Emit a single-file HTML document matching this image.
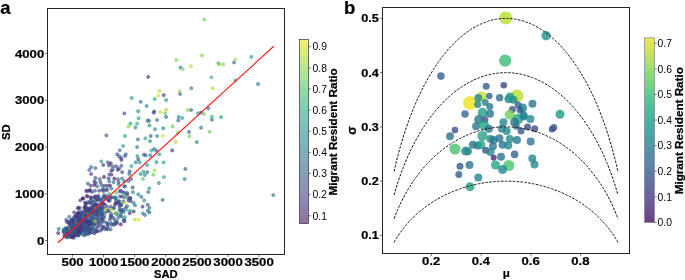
<!DOCTYPE html>
<html><head><meta charset="utf-8"><style>
html,body{margin:0;padding:0;background:#fff;width:685px;height:280px;overflow:hidden}
svg{display:block;will-change:transform}
text{font-family:"Liberation Sans", sans-serif;fill:#000}
text[font-weight=bold]{stroke:#000;stroke-width:0.22px}
</style></head><body>
<svg width="685" height="280" viewBox="0 0 685 280">
<text x="0.3" y="13.8" font-size="18.5" font-weight="bold">a</text>
<text x="344" y="13.9" font-size="18.5" font-weight="bold">b</text>
<g fill-opacity="0.6" stroke-opacity="0.6" stroke-width="0.8">
<circle cx="66.1" cy="235.3" r="1.6" fill="#463480" stroke="#463480"/>
<circle cx="81.1" cy="214.1" r="1.6" fill="#433e85" stroke="#433e85"/>
<circle cx="65.4" cy="228.2" r="1.6" fill="#3d4d8a" stroke="#3d4d8a"/>
<circle cx="111.5" cy="216.0" r="1.6" fill="#23a983" stroke="#23a983"/>
<circle cx="93.7" cy="212.7" r="1.6" fill="#3b518b" stroke="#3b518b"/>
<circle cx="72.0" cy="228.9" r="1.6" fill="#463480" stroke="#463480"/>
<circle cx="87.8" cy="202.1" r="1.6" fill="#33638d" stroke="#33638d"/>
<circle cx="101.8" cy="198.3" r="1.6" fill="#2b758e" stroke="#2b758e"/>
<circle cx="79.5" cy="211.9" r="1.6" fill="#24878e" stroke="#24878e"/>
<circle cx="87.3" cy="223.2" r="1.6" fill="#472e7c" stroke="#472e7c"/>
<circle cx="113.5" cy="218.0" r="1.6" fill="#424086" stroke="#424086"/>
<circle cx="106.3" cy="198.0" r="1.6" fill="#3b518b" stroke="#3b518b"/>
<circle cx="110.7" cy="197.7" r="1.6" fill="#472d7b" stroke="#472d7b"/>
<circle cx="75.9" cy="225.1" r="1.6" fill="#34608d" stroke="#34608d"/>
<circle cx="73.6" cy="237.9" r="1.6" fill="#297a8e" stroke="#297a8e"/>
<circle cx="85.6" cy="204.0" r="1.6" fill="#472e7c" stroke="#472e7c"/>
<circle cx="72.7" cy="231.1" r="1.6" fill="#3d4e8a" stroke="#3d4e8a"/>
<circle cx="101.0" cy="223.3" r="1.6" fill="#32648e" stroke="#32648e"/>
<circle cx="66.2" cy="219.9" r="1.6" fill="#3f4889" stroke="#3f4889"/>
<circle cx="97.5" cy="199.8" r="1.6" fill="#46337f" stroke="#46337f"/>
<circle cx="93.8" cy="220.5" r="1.6" fill="#3a548c" stroke="#3a548c"/>
<circle cx="110.8" cy="222.9" r="1.6" fill="#3e4989" stroke="#3e4989"/>
<circle cx="104.9" cy="229.0" r="1.6" fill="#433d84" stroke="#433d84"/>
<circle cx="109.7" cy="200.7" r="1.6" fill="#404588" stroke="#404588"/>
<circle cx="89.9" cy="202.6" r="1.6" fill="#3b528b" stroke="#3b528b"/>
<circle cx="72.3" cy="219.8" r="1.6" fill="#375a8c" stroke="#375a8c"/>
<circle cx="75.7" cy="228.7" r="1.6" fill="#3c4f8a" stroke="#3c4f8a"/>
<circle cx="101.8" cy="214.4" r="1.6" fill="#31678e" stroke="#31678e"/>
<circle cx="66.5" cy="228.8" r="1.6" fill="#3a538b" stroke="#3a538b"/>
<circle cx="76.3" cy="220.9" r="1.6" fill="#375b8d" stroke="#375b8d"/>
<circle cx="115.6" cy="223.2" r="1.6" fill="#3c4f8a" stroke="#3c4f8a"/>
<circle cx="109.2" cy="210.8" r="1.6" fill="#472f7d" stroke="#472f7d"/>
<circle cx="93.7" cy="229.5" r="1.6" fill="#355e8d" stroke="#355e8d"/>
<circle cx="89.7" cy="232.9" r="1.6" fill="#33628d" stroke="#33628d"/>
<circle cx="98.1" cy="211.2" r="1.6" fill="#34608d" stroke="#34608d"/>
<circle cx="84.1" cy="214.9" r="1.6" fill="#463480" stroke="#463480"/>
<circle cx="90.8" cy="232.0" r="1.6" fill="#472c7a" stroke="#472c7a"/>
<circle cx="70.1" cy="224.4" r="1.6" fill="#433e85" stroke="#433e85"/>
<circle cx="73.4" cy="232.2" r="1.6" fill="#3f4788" stroke="#3f4788"/>
<circle cx="83.6" cy="225.6" r="1.6" fill="#2d718e" stroke="#2d718e"/>
<circle cx="82.2" cy="225.7" r="1.6" fill="#472d7b" stroke="#472d7b"/>
<circle cx="80.8" cy="233.3" r="1.6" fill="#287c8e" stroke="#287c8e"/>
<circle cx="106.7" cy="206.6" r="1.6" fill="#3c508b" stroke="#3c508b"/>
<circle cx="101.8" cy="207.0" r="1.6" fill="#423f85" stroke="#423f85"/>
<circle cx="105.0" cy="204.6" r="1.6" fill="#3e4c8a" stroke="#3e4c8a"/>
<circle cx="66.9" cy="235.8" r="1.6" fill="#424186" stroke="#424186"/>
<circle cx="95.7" cy="214.5" r="1.6" fill="#218f8d" stroke="#218f8d"/>
<circle cx="88.5" cy="214.7" r="1.6" fill="#404588" stroke="#404588"/>
<circle cx="87.7" cy="224.6" r="1.6" fill="#414487" stroke="#414487"/>
<circle cx="92.1" cy="232.2" r="1.6" fill="#365d8d" stroke="#365d8d"/>
<circle cx="96.7" cy="199.5" r="1.6" fill="#463480" stroke="#463480"/>
<circle cx="94.3" cy="233.3" r="1.6" fill="#453882" stroke="#453882"/>
<circle cx="93.7" cy="219.8" r="1.6" fill="#31668e" stroke="#31668e"/>
<circle cx="80.1" cy="221.5" r="1.6" fill="#443983" stroke="#443983"/>
<circle cx="84.0" cy="223.1" r="1.6" fill="#3d4d8a" stroke="#3d4d8a"/>
<circle cx="72.9" cy="224.8" r="1.6" fill="#404688" stroke="#404688"/>
<circle cx="76.0" cy="230.2" r="1.6" fill="#472d7b" stroke="#472d7b"/>
<circle cx="76.8" cy="217.8" r="1.6" fill="#414487" stroke="#414487"/>
<circle cx="117.8" cy="202.3" r="1.6" fill="#39568c" stroke="#39568c"/>
<circle cx="116.0" cy="203.1" r="1.6" fill="#38598c" stroke="#38598c"/>
<circle cx="109.9" cy="219.3" r="1.6" fill="#453882" stroke="#453882"/>
<circle cx="107.5" cy="224.0" r="1.6" fill="#365c8d" stroke="#365c8d"/>
<circle cx="116.6" cy="223.5" r="1.6" fill="#39568c" stroke="#39568c"/>
<circle cx="95.1" cy="212.6" r="1.6" fill="#32658e" stroke="#32658e"/>
<circle cx="113.6" cy="207.8" r="1.6" fill="#32648e" stroke="#32648e"/>
<circle cx="82.8" cy="228.8" r="1.6" fill="#3f4889" stroke="#3f4889"/>
<circle cx="91.1" cy="229.3" r="1.6" fill="#453581" stroke="#453581"/>
<circle cx="98.0" cy="220.1" r="1.6" fill="#355f8d" stroke="#355f8d"/>
<circle cx="78.0" cy="220.8" r="1.6" fill="#3d4d8a" stroke="#3d4d8a"/>
<circle cx="78.1" cy="213.7" r="1.6" fill="#33628d" stroke="#33628d"/>
<circle cx="87.4" cy="212.2" r="1.6" fill="#433d84" stroke="#433d84"/>
<circle cx="120.9" cy="204.0" r="1.6" fill="#3b518b" stroke="#3b518b"/>
<circle cx="94.6" cy="224.2" r="1.6" fill="#3f4889" stroke="#3f4889"/>
<circle cx="99.1" cy="199.7" r="1.6" fill="#39568c" stroke="#39568c"/>
<circle cx="88.3" cy="234.2" r="1.6" fill="#355e8d" stroke="#355e8d"/>
<circle cx="119.5" cy="206.4" r="1.6" fill="#3e4989" stroke="#3e4989"/>
<circle cx="106.5" cy="229.1" r="1.6" fill="#3d4e8a" stroke="#3d4e8a"/>
<circle cx="78.1" cy="217.3" r="1.6" fill="#424186" stroke="#424186"/>
<circle cx="114.9" cy="220.3" r="1.6" fill="#31668e" stroke="#31668e"/>
<circle cx="70.8" cy="234.9" r="1.6" fill="#3d4d8a" stroke="#3d4d8a"/>
<circle cx="102.3" cy="228.7" r="1.6" fill="#3e4a89" stroke="#3e4a89"/>
<circle cx="95.6" cy="228.1" r="1.6" fill="#297a8e" stroke="#297a8e"/>
<circle cx="96.4" cy="223.3" r="1.6" fill="#472e7c" stroke="#472e7c"/>
<circle cx="90.8" cy="229.3" r="1.6" fill="#33638d" stroke="#33638d"/>
<circle cx="85.7" cy="232.7" r="1.6" fill="#3a538b" stroke="#3a538b"/>
<circle cx="113.6" cy="224.3" r="1.6" fill="#31678e" stroke="#31678e"/>
<circle cx="102.7" cy="203.8" r="1.6" fill="#3f4889" stroke="#3f4889"/>
<circle cx="88.7" cy="211.9" r="1.6" fill="#433e85" stroke="#433e85"/>
<circle cx="115.9" cy="202.7" r="1.6" fill="#414287" stroke="#414287"/>
<circle cx="74.9" cy="235.3" r="1.6" fill="#34608d" stroke="#34608d"/>
<circle cx="113.8" cy="208.2" r="1.6" fill="#3e4c8a" stroke="#3e4c8a"/>
<circle cx="74.0" cy="218.4" r="1.6" fill="#31668e" stroke="#31668e"/>
<circle cx="99.3" cy="225.4" r="1.6" fill="#46307e" stroke="#46307e"/>
<circle cx="69.8" cy="228.3" r="1.6" fill="#472c7a" stroke="#472c7a"/>
<circle cx="94.2" cy="210.6" r="1.6" fill="#433d84" stroke="#433d84"/>
<circle cx="104.1" cy="196.5" r="1.6" fill="#3b528b" stroke="#3b528b"/>
<circle cx="100.0" cy="206.6" r="1.6" fill="#46327e" stroke="#46327e"/>
<circle cx="88.7" cy="232.4" r="1.6" fill="#443983" stroke="#443983"/>
<circle cx="85.6" cy="206.5" r="1.6" fill="#46307e" stroke="#46307e"/>
<circle cx="73.3" cy="223.0" r="1.6" fill="#3d4d8a" stroke="#3d4d8a"/>
<circle cx="69.3" cy="216.8" r="1.6" fill="#31678e" stroke="#31678e"/>
<circle cx="107.6" cy="223.6" r="1.6" fill="#3b528b" stroke="#3b528b"/>
<circle cx="114.0" cy="224.6" r="1.6" fill="#433e85" stroke="#433e85"/>
<circle cx="96.9" cy="230.8" r="1.6" fill="#32658e" stroke="#32658e"/>
<circle cx="73.7" cy="223.8" r="1.6" fill="#3d4e8a" stroke="#3d4e8a"/>
<circle cx="92.9" cy="205.7" r="1.6" fill="#38598c" stroke="#38598c"/>
<circle cx="88.7" cy="208.8" r="1.6" fill="#433e85" stroke="#433e85"/>
<circle cx="81.4" cy="232.4" r="1.6" fill="#443a83" stroke="#443a83"/>
<circle cx="74.6" cy="223.5" r="1.6" fill="#31668e" stroke="#31668e"/>
<circle cx="80.8" cy="225.2" r="1.6" fill="#443983" stroke="#443983"/>
<circle cx="114.9" cy="204.8" r="1.6" fill="#472e7c" stroke="#472e7c"/>
<circle cx="86.7" cy="220.3" r="1.6" fill="#34608d" stroke="#34608d"/>
<circle cx="74.2" cy="231.2" r="1.6" fill="#433d84" stroke="#433d84"/>
<circle cx="79.9" cy="208.1" r="1.6" fill="#3c508b" stroke="#3c508b"/>
<circle cx="97.2" cy="207.9" r="1.6" fill="#3e4c8a" stroke="#3e4c8a"/>
<circle cx="97.6" cy="210.2" r="1.6" fill="#32648e" stroke="#32648e"/>
<circle cx="108.0" cy="228.8" r="1.6" fill="#3f4889" stroke="#3f4889"/>
<circle cx="116.1" cy="200.5" r="1.6" fill="#3d4e8a" stroke="#3d4e8a"/>
<circle cx="76.5" cy="227.2" r="1.6" fill="#3d4e8a" stroke="#3d4e8a"/>
<circle cx="110.8" cy="217.1" r="1.6" fill="#33638d" stroke="#33638d"/>
<circle cx="101.7" cy="203.3" r="1.6" fill="#3c508b" stroke="#3c508b"/>
<circle cx="71.6" cy="222.1" r="1.6" fill="#472e7c" stroke="#472e7c"/>
<circle cx="91.0" cy="224.5" r="1.6" fill="#3c508b" stroke="#3c508b"/>
<circle cx="91.9" cy="207.8" r="1.6" fill="#404588" stroke="#404588"/>
<circle cx="70.9" cy="231.4" r="1.6" fill="#472f7d" stroke="#472f7d"/>
<circle cx="76.6" cy="227.6" r="1.6" fill="#443a83" stroke="#443a83"/>
<circle cx="85.9" cy="213.8" r="1.6" fill="#3f4889" stroke="#3f4889"/>
<circle cx="81.1" cy="219.9" r="1.6" fill="#3c508b" stroke="#3c508b"/>
<circle cx="91.3" cy="217.6" r="1.6" fill="#3c4f8a" stroke="#3c4f8a"/>
<circle cx="76.7" cy="230.7" r="1.6" fill="#31688e" stroke="#31688e"/>
<circle cx="67.2" cy="232.6" r="1.6" fill="#3d4d8a" stroke="#3d4d8a"/>
<circle cx="77.2" cy="223.9" r="1.6" fill="#3a548c" stroke="#3a548c"/>
<circle cx="90.1" cy="210.5" r="1.6" fill="#443983" stroke="#443983"/>
<circle cx="72.0" cy="236.9" r="1.6" fill="#423f85" stroke="#423f85"/>
<circle cx="65.9" cy="230.0" r="1.6" fill="#443a83" stroke="#443a83"/>
<circle cx="80.2" cy="220.8" r="1.6" fill="#3b528b" stroke="#3b528b"/>
<circle cx="63.9" cy="229.9" r="1.6" fill="#424086" stroke="#424086"/>
<circle cx="72.1" cy="226.5" r="1.6" fill="#424186" stroke="#424186"/>
<circle cx="104.9" cy="212.5" r="1.6" fill="#39568c" stroke="#39568c"/>
<circle cx="69.0" cy="232.7" r="1.6" fill="#3b528b" stroke="#3b528b"/>
<circle cx="78.5" cy="220.0" r="1.6" fill="#472c7a" stroke="#472c7a"/>
<circle cx="89.8" cy="210.6" r="1.6" fill="#3d4e8a" stroke="#3d4e8a"/>
<circle cx="84.0" cy="221.3" r="1.6" fill="#365d8d" stroke="#365d8d"/>
<circle cx="82.6" cy="219.9" r="1.6" fill="#3a548c" stroke="#3a548c"/>
<circle cx="66.8" cy="228.5" r="1.6" fill="#3f4889" stroke="#3f4889"/>
<circle cx="88.8" cy="222.6" r="1.6" fill="#443b84" stroke="#443b84"/>
<circle cx="86.2" cy="229.1" r="1.6" fill="#433d84" stroke="#433d84"/>
<circle cx="86.3" cy="229.0" r="1.6" fill="#39568c" stroke="#39568c"/>
<circle cx="83.8" cy="223.7" r="1.6" fill="#3f4788" stroke="#3f4788"/>
<circle cx="69.2" cy="221.8" r="1.6" fill="#31678e" stroke="#31678e"/>
<circle cx="66.8" cy="237.5" r="1.6" fill="#32658e" stroke="#32658e"/>
<circle cx="91.6" cy="227.9" r="1.6" fill="#25858e" stroke="#25858e"/>
<circle cx="79.9" cy="225.9" r="1.6" fill="#32658e" stroke="#32658e"/>
<circle cx="73.2" cy="236.1" r="1.6" fill="#33638d" stroke="#33638d"/>
<circle cx="72.1" cy="234.9" r="1.6" fill="#3c4f8a" stroke="#3c4f8a"/>
<circle cx="86.3" cy="224.2" r="1.6" fill="#375b8d" stroke="#375b8d"/>
<circle cx="74.5" cy="221.2" r="1.6" fill="#3b518b" stroke="#3b518b"/>
<circle cx="67.3" cy="236.6" r="1.6" fill="#39568c" stroke="#39568c"/>
<circle cx="88.3" cy="230.3" r="1.6" fill="#34618d" stroke="#34618d"/>
<circle cx="73.0" cy="230.0" r="1.6" fill="#414287" stroke="#414287"/>
<circle cx="101.6" cy="214.5" r="1.6" fill="#46337f" stroke="#46337f"/>
<circle cx="78.4" cy="223.9" r="1.6" fill="#443a83" stroke="#443a83"/>
<circle cx="84.6" cy="221.5" r="1.6" fill="#472d7b" stroke="#472d7b"/>
<circle cx="69.4" cy="235.6" r="1.6" fill="#3e4a89" stroke="#3e4a89"/>
<circle cx="81.1" cy="213.7" r="1.6" fill="#3f4788" stroke="#3f4788"/>
<circle cx="74.2" cy="226.2" r="1.6" fill="#414287" stroke="#414287"/>
<circle cx="93.9" cy="220.3" r="1.6" fill="#33638d" stroke="#33638d"/>
<circle cx="71.3" cy="222.4" r="1.6" fill="#39568c" stroke="#39568c"/>
<circle cx="85.6" cy="217.7" r="1.6" fill="#3c4f8a" stroke="#3c4f8a"/>
<circle cx="94.3" cy="223.5" r="1.6" fill="#3e4989" stroke="#3e4989"/>
<circle cx="78.4" cy="235.5" r="1.6" fill="#365c8d" stroke="#365c8d"/>
<circle cx="89.7" cy="229.4" r="1.6" fill="#424086" stroke="#424086"/>
<circle cx="80.5" cy="233.0" r="1.6" fill="#365c8d" stroke="#365c8d"/>
<circle cx="97.7" cy="215.1" r="1.6" fill="#34608d" stroke="#34608d"/>
<circle cx="78.4" cy="232.3" r="1.6" fill="#375b8d" stroke="#375b8d"/>
<circle cx="63.9" cy="232.3" r="1.6" fill="#46337f" stroke="#46337f"/>
<circle cx="78.3" cy="229.6" r="1.6" fill="#218e8d" stroke="#218e8d"/>
<circle cx="80.1" cy="215.4" r="1.6" fill="#472f7d" stroke="#472f7d"/>
<circle cx="86.0" cy="222.6" r="1.6" fill="#443a83" stroke="#443a83"/>
<circle cx="85.9" cy="224.4" r="1.6" fill="#31688e" stroke="#31688e"/>
<circle cx="70.2" cy="231.9" r="1.6" fill="#404688" stroke="#404688"/>
<circle cx="72.4" cy="223.3" r="1.6" fill="#404588" stroke="#404588"/>
<circle cx="79.7" cy="225.9" r="1.6" fill="#3c4f8a" stroke="#3c4f8a"/>
<circle cx="76.7" cy="221.2" r="1.6" fill="#472e7c" stroke="#472e7c"/>
<circle cx="85.3" cy="220.4" r="1.6" fill="#404588" stroke="#404588"/>
<circle cx="110.4" cy="206.8" r="1.6" fill="#443983" stroke="#443983"/>
<circle cx="90.1" cy="218.7" r="1.6" fill="#433d84" stroke="#433d84"/>
<circle cx="104.2" cy="197.5" r="1.6" fill="#433e85" stroke="#433e85"/>
<circle cx="96.2" cy="211.9" r="1.6" fill="#365d8d" stroke="#365d8d"/>
<circle cx="104.1" cy="217.8" r="1.6" fill="#38598c" stroke="#38598c"/>
<circle cx="88.1" cy="223.3" r="1.6" fill="#472d7b" stroke="#472d7b"/>
<circle cx="79.6" cy="227.2" r="1.6" fill="#3d4d8a" stroke="#3d4d8a"/>
<circle cx="86.7" cy="221.4" r="1.6" fill="#472f7d" stroke="#472f7d"/>
<circle cx="83.4" cy="222.3" r="1.6" fill="#472f7d" stroke="#472f7d"/>
<circle cx="79.4" cy="234.0" r="1.6" fill="#433d84" stroke="#433d84"/>
<circle cx="81.5" cy="224.8" r="1.6" fill="#3b528b" stroke="#3b528b"/>
<circle cx="95.3" cy="200.7" r="1.6" fill="#3b528b" stroke="#3b528b"/>
<circle cx="85.8" cy="225.7" r="1.6" fill="#443a83" stroke="#443a83"/>
<circle cx="72.5" cy="228.2" r="1.6" fill="#34608d" stroke="#34608d"/>
<circle cx="67.6" cy="231.1" r="1.6" fill="#3c4f8a" stroke="#3c4f8a"/>
<circle cx="106.9" cy="211.4" r="1.6" fill="#365c8d" stroke="#365c8d"/>
<circle cx="80.9" cy="224.0" r="1.6" fill="#2a768e" stroke="#2a768e"/>
<circle cx="76.0" cy="227.8" r="1.6" fill="#3e4a89" stroke="#3e4a89"/>
<circle cx="91.1" cy="224.1" r="1.6" fill="#2b748e" stroke="#2b748e"/>
<circle cx="76.5" cy="231.0" r="1.6" fill="#375b8d" stroke="#375b8d"/>
<circle cx="91.9" cy="218.4" r="1.6" fill="#424086" stroke="#424086"/>
<circle cx="71.7" cy="234.6" r="1.6" fill="#3a548c" stroke="#3a548c"/>
<circle cx="87.6" cy="220.0" r="1.6" fill="#38598c" stroke="#38598c"/>
<circle cx="82.4" cy="227.9" r="1.6" fill="#453581" stroke="#453581"/>
<circle cx="84.2" cy="225.8" r="1.6" fill="#39568c" stroke="#39568c"/>
<circle cx="76.1" cy="231.5" r="1.6" fill="#404588" stroke="#404588"/>
<circle cx="88.3" cy="229.3" r="1.6" fill="#31688e" stroke="#31688e"/>
<circle cx="101.6" cy="218.4" r="1.6" fill="#23888e" stroke="#23888e"/>
<circle cx="91.7" cy="221.0" r="1.6" fill="#32648e" stroke="#32648e"/>
<circle cx="82.3" cy="220.5" r="1.6" fill="#3a538b" stroke="#3a538b"/>
<circle cx="80.2" cy="222.7" r="1.6" fill="#375a8c" stroke="#375a8c"/>
<circle cx="69.0" cy="222.2" r="1.6" fill="#3a538b" stroke="#3a538b"/>
<circle cx="72.1" cy="236.9" r="1.6" fill="#472c7a" stroke="#472c7a"/>
<circle cx="85.9" cy="233.5" r="1.6" fill="#3c4f8a" stroke="#3c4f8a"/>
<circle cx="77.7" cy="221.4" r="1.6" fill="#424086" stroke="#424086"/>
<circle cx="66.9" cy="222.0" r="1.6" fill="#46327e" stroke="#46327e"/>
<circle cx="91.9" cy="209.1" r="1.6" fill="#3e4c8a" stroke="#3e4c8a"/>
<circle cx="69.4" cy="231.0" r="1.6" fill="#31678e" stroke="#31678e"/>
<circle cx="87.7" cy="226.0" r="1.6" fill="#472f7d" stroke="#472f7d"/>
<circle cx="98.8" cy="207.5" r="1.6" fill="#375b8d" stroke="#375b8d"/>
<circle cx="77.2" cy="234.5" r="1.6" fill="#375b8d" stroke="#375b8d"/>
<circle cx="72.2" cy="227.7" r="1.6" fill="#3c508b" stroke="#3c508b"/>
<circle cx="69.8" cy="231.9" r="1.6" fill="#424186" stroke="#424186"/>
<circle cx="71.9" cy="224.4" r="1.6" fill="#38588c" stroke="#38588c"/>
<circle cx="68.8" cy="231.3" r="1.6" fill="#31688e" stroke="#31688e"/>
<circle cx="77.0" cy="231.1" r="1.6" fill="#443b84" stroke="#443b84"/>
<circle cx="85.1" cy="225.5" r="1.6" fill="#32648e" stroke="#32648e"/>
<circle cx="87.9" cy="215.9" r="1.6" fill="#375a8c" stroke="#375a8c"/>
<circle cx="70.2" cy="224.3" r="1.6" fill="#443b84" stroke="#443b84"/>
<circle cx="63.7" cy="231.2" r="1.6" fill="#3a538b" stroke="#3a538b"/>
<circle cx="111.1" cy="213.8" r="1.6" fill="#3e4c8a" stroke="#3e4c8a"/>
<circle cx="88.5" cy="225.9" r="1.6" fill="#424186" stroke="#424186"/>
<circle cx="90.4" cy="222.0" r="1.6" fill="#404588" stroke="#404588"/>
<circle cx="82.1" cy="224.3" r="1.6" fill="#3c4f8a" stroke="#3c4f8a"/>
<circle cx="88.3" cy="225.3" r="1.6" fill="#453581" stroke="#453581"/>
<circle cx="103.6" cy="221.6" r="1.6" fill="#414487" stroke="#414487"/>
<circle cx="102.0" cy="218.7" r="1.6" fill="#404688" stroke="#404688"/>
<circle cx="85.7" cy="226.8" r="1.6" fill="#472e7c" stroke="#472e7c"/>
<circle cx="68.1" cy="235.0" r="1.6" fill="#3c4f8a" stroke="#3c4f8a"/>
<circle cx="82.6" cy="223.3" r="1.6" fill="#3a548c" stroke="#3a548c"/>
<circle cx="90.5" cy="223.8" r="1.6" fill="#46337f" stroke="#46337f"/>
<circle cx="71.3" cy="226.5" r="1.6" fill="#2e6e8e" stroke="#2e6e8e"/>
<circle cx="76.7" cy="227.1" r="1.6" fill="#297a8e" stroke="#297a8e"/>
<circle cx="66.6" cy="236.1" r="1.6" fill="#365c8d" stroke="#365c8d"/>
<circle cx="82.6" cy="232.5" r="1.6" fill="#463480" stroke="#463480"/>
<circle cx="96.5" cy="208.0" r="1.6" fill="#287c8e" stroke="#287c8e"/>
<circle cx="91.2" cy="212.8" r="1.6" fill="#21908d" stroke="#21908d"/>
<circle cx="83.6" cy="230.9" r="1.6" fill="#39558c" stroke="#39558c"/>
<circle cx="76.6" cy="214.7" r="1.6" fill="#453581" stroke="#453581"/>
<circle cx="96.1" cy="220.7" r="1.6" fill="#375b8d" stroke="#375b8d"/>
<circle cx="77.7" cy="229.2" r="1.6" fill="#46337f" stroke="#46337f"/>
<circle cx="81.7" cy="228.2" r="1.6" fill="#443a83" stroke="#443a83"/>
<circle cx="90.6" cy="221.8" r="1.6" fill="#33638d" stroke="#33638d"/>
<circle cx="74.8" cy="229.3" r="1.6" fill="#23888e" stroke="#23888e"/>
<circle cx="82.5" cy="212.1" r="1.6" fill="#33638d" stroke="#33638d"/>
<circle cx="75.6" cy="217.0" r="1.6" fill="#404688" stroke="#404688"/>
<circle cx="93.1" cy="224.9" r="1.6" fill="#443a83" stroke="#443a83"/>
<circle cx="88.0" cy="229.6" r="1.6" fill="#472e7c" stroke="#472e7c"/>
<circle cx="78.8" cy="229.3" r="1.6" fill="#32648e" stroke="#32648e"/>
<circle cx="72.6" cy="219.2" r="1.6" fill="#414287" stroke="#414287"/>
<circle cx="93.1" cy="228.4" r="1.6" fill="#31688e" stroke="#31688e"/>
<circle cx="91.9" cy="216.5" r="1.6" fill="#443983" stroke="#443983"/>
<circle cx="78.0" cy="235.4" r="1.6" fill="#423f85" stroke="#423f85"/>
<circle cx="104.1" cy="215.7" r="1.6" fill="#3f4889" stroke="#3f4889"/>
<circle cx="82.5" cy="223.0" r="1.6" fill="#3b518b" stroke="#3b518b"/>
<circle cx="74.1" cy="236.4" r="1.6" fill="#433d84" stroke="#433d84"/>
<circle cx="93.9" cy="211.8" r="1.6" fill="#2d708e" stroke="#2d708e"/>
<circle cx="83.5" cy="224.1" r="1.6" fill="#453781" stroke="#453781"/>
<circle cx="65.3" cy="236.3" r="1.6" fill="#26828e" stroke="#26828e"/>
<circle cx="85.4" cy="212.1" r="1.6" fill="#3a548c" stroke="#3a548c"/>
<circle cx="82.7" cy="220.0" r="1.6" fill="#443a83" stroke="#443a83"/>
<circle cx="79.8" cy="216.7" r="1.6" fill="#453781" stroke="#453781"/>
<circle cx="92.3" cy="227.3" r="1.6" fill="#277f8e" stroke="#277f8e"/>
<circle cx="91.5" cy="212.9" r="1.6" fill="#365d8d" stroke="#365d8d"/>
<circle cx="95.6" cy="231.4" r="1.6" fill="#472f7d" stroke="#472f7d"/>
<circle cx="95.5" cy="204.7" r="1.6" fill="#33638d" stroke="#33638d"/>
<circle cx="102.5" cy="211.5" r="1.6" fill="#3a538b" stroke="#3a538b"/>
<circle cx="74.3" cy="233.0" r="1.6" fill="#39558c" stroke="#39558c"/>
<circle cx="84.0" cy="222.7" r="1.6" fill="#39558c" stroke="#39558c"/>
<circle cx="103.1" cy="208.4" r="1.6" fill="#3f4889" stroke="#3f4889"/>
<circle cx="63.6" cy="231.0" r="1.6" fill="#38598c" stroke="#38598c"/>
<circle cx="97.5" cy="215.0" r="1.6" fill="#472e7c" stroke="#472e7c"/>
<circle cx="93.3" cy="222.9" r="1.6" fill="#3e4a89" stroke="#3e4a89"/>
<circle cx="90.6" cy="211.5" r="1.6" fill="#443983" stroke="#443983"/>
<circle cx="85.6" cy="215.4" r="1.6" fill="#46307e" stroke="#46307e"/>
<circle cx="89.0" cy="209.4" r="1.6" fill="#453882" stroke="#453882"/>
<circle cx="88.7" cy="221.6" r="1.6" fill="#404588" stroke="#404588"/>
<circle cx="88.9" cy="223.9" r="1.6" fill="#414487" stroke="#414487"/>
<circle cx="74.5" cy="216.3" r="1.6" fill="#424186" stroke="#424186"/>
<circle cx="90.2" cy="214.1" r="1.6" fill="#355f8d" stroke="#355f8d"/>
<circle cx="78.6" cy="223.1" r="1.6" fill="#38588c" stroke="#38588c"/>
<circle cx="86.3" cy="226.9" r="1.6" fill="#404588" stroke="#404588"/>
<circle cx="100.3" cy="208.5" r="1.6" fill="#443b84" stroke="#443b84"/>
<circle cx="71.7" cy="229.6" r="1.6" fill="#414487" stroke="#414487"/>
<circle cx="70.0" cy="231.3" r="1.6" fill="#32648e" stroke="#32648e"/>
<circle cx="93.9" cy="216.4" r="1.6" fill="#46327e" stroke="#46327e"/>
<circle cx="92.9" cy="223.0" r="1.6" fill="#29798e" stroke="#29798e"/>
<circle cx="87.3" cy="226.3" r="1.6" fill="#3d4e8a" stroke="#3d4e8a"/>
<circle cx="73.8" cy="229.9" r="1.6" fill="#3f4889" stroke="#3f4889"/>
<circle cx="71.1" cy="220.0" r="1.6" fill="#39568c" stroke="#39568c"/>
<circle cx="73.0" cy="231.3" r="1.6" fill="#355e8d" stroke="#355e8d"/>
<circle cx="86.3" cy="223.5" r="1.6" fill="#355e8d" stroke="#355e8d"/>
<circle cx="81.5" cy="225.9" r="1.6" fill="#32648e" stroke="#32648e"/>
<circle cx="85.3" cy="224.7" r="1.6" fill="#2c718e" stroke="#2c718e"/>
<circle cx="87.9" cy="221.2" r="1.6" fill="#472c7a" stroke="#472c7a"/>
<circle cx="75.2" cy="222.9" r="1.6" fill="#46307e" stroke="#46307e"/>
<circle cx="72.2" cy="220.7" r="1.6" fill="#355e8d" stroke="#355e8d"/>
<circle cx="73.3" cy="227.7" r="1.6" fill="#404588" stroke="#404588"/>
<circle cx="71.7" cy="229.7" r="1.6" fill="#365d8d" stroke="#365d8d"/>
<circle cx="79.4" cy="216.9" r="1.6" fill="#24878e" stroke="#24878e"/>
<circle cx="79.6" cy="217.2" r="1.6" fill="#424186" stroke="#424186"/>
<circle cx="96.1" cy="218.3" r="1.6" fill="#433e85" stroke="#433e85"/>
<circle cx="100.1" cy="217.6" r="1.6" fill="#453882" stroke="#453882"/>
<circle cx="78.7" cy="224.9" r="1.6" fill="#39568c" stroke="#39568c"/>
<circle cx="82.8" cy="216.0" r="1.6" fill="#3f4889" stroke="#3f4889"/>
<circle cx="76.3" cy="232.3" r="1.6" fill="#20a386" stroke="#20a386"/>
<circle cx="86.5" cy="230.4" r="1.6" fill="#31668e" stroke="#31668e"/>
<circle cx="91.6" cy="217.8" r="1.6" fill="#38588c" stroke="#38588c"/>
<circle cx="83.8" cy="235.0" r="1.6" fill="#453781" stroke="#453781"/>
<circle cx="97.2" cy="214.4" r="1.6" fill="#365d8d" stroke="#365d8d"/>
<circle cx="89.0" cy="213.6" r="1.6" fill="#3c4f8a" stroke="#3c4f8a"/>
<circle cx="76.3" cy="228.2" r="1.6" fill="#472f7d" stroke="#472f7d"/>
<circle cx="76.1" cy="234.2" r="1.6" fill="#424086" stroke="#424086"/>
<circle cx="84.9" cy="221.5" r="1.6" fill="#433d84" stroke="#433d84"/>
<circle cx="64.3" cy="235.6" r="1.6" fill="#472f7d" stroke="#472f7d"/>
<circle cx="96.7" cy="211.6" r="1.6" fill="#38598c" stroke="#38598c"/>
<circle cx="100.7" cy="209.3" r="1.6" fill="#3c4f8a" stroke="#3c4f8a"/>
<circle cx="75.8" cy="234.0" r="1.6" fill="#472c7a" stroke="#472c7a"/>
<circle cx="76.1" cy="221.8" r="1.6" fill="#54c568" stroke="#54c568"/>
<circle cx="77.4" cy="230.1" r="1.6" fill="#375a8c" stroke="#375a8c"/>
<circle cx="66.9" cy="233.8" r="1.6" fill="#46327e" stroke="#46327e"/>
<circle cx="72.6" cy="230.2" r="1.6" fill="#32648e" stroke="#32648e"/>
<circle cx="70.9" cy="233.3" r="1.6" fill="#433d84" stroke="#433d84"/>
<circle cx="100.0" cy="210.3" r="1.6" fill="#3f4788" stroke="#3f4788"/>
<circle cx="86.4" cy="212.1" r="1.6" fill="#4ac16d" stroke="#4ac16d"/>
<circle cx="81.0" cy="215.8" r="1.6" fill="#33628d" stroke="#33628d"/>
<circle cx="96.3" cy="205.0" r="1.6" fill="#443983" stroke="#443983"/>
<circle cx="97.7" cy="218.5" r="1.6" fill="#32648e" stroke="#32648e"/>
<circle cx="86.4" cy="229.4" r="1.6" fill="#3d4d8a" stroke="#3d4d8a"/>
<circle cx="92.4" cy="212.4" r="1.6" fill="#3e4989" stroke="#3e4989"/>
<circle cx="70.1" cy="237.2" r="1.6" fill="#423f85" stroke="#423f85"/>
<circle cx="71.4" cy="233.5" r="1.6" fill="#33638d" stroke="#33638d"/>
<circle cx="83.6" cy="231.0" r="1.6" fill="#31668e" stroke="#31668e"/>
<circle cx="80.8" cy="223.5" r="1.6" fill="#3d4e8a" stroke="#3d4e8a"/>
<circle cx="66.8" cy="236.2" r="1.6" fill="#34608d" stroke="#34608d"/>
<circle cx="82.6" cy="226.9" r="1.6" fill="#423f85" stroke="#423f85"/>
<circle cx="80.8" cy="222.2" r="1.6" fill="#3b518b" stroke="#3b518b"/>
<circle cx="84.8" cy="219.7" r="1.6" fill="#3d4e8a" stroke="#3d4e8a"/>
<circle cx="76.8" cy="234.8" r="1.6" fill="#39568c" stroke="#39568c"/>
<circle cx="77.6" cy="230.6" r="1.6" fill="#355e8d" stroke="#355e8d"/>
<circle cx="77.0" cy="221.3" r="1.6" fill="#404688" stroke="#404688"/>
<circle cx="64.0" cy="229.6" r="1.6" fill="#228d8d" stroke="#228d8d"/>
<circle cx="97.7" cy="227.0" r="1.6" fill="#463480" stroke="#463480"/>
<circle cx="79.7" cy="214.1" r="1.6" fill="#375b8d" stroke="#375b8d"/>
<circle cx="84.1" cy="217.4" r="1.6" fill="#32658e" stroke="#32658e"/>
<circle cx="85.5" cy="222.0" r="1.6" fill="#424186" stroke="#424186"/>
<circle cx="101.9" cy="215.5" r="1.6" fill="#31688e" stroke="#31688e"/>
<circle cx="83.2" cy="215.9" r="1.6" fill="#33628d" stroke="#33628d"/>
<circle cx="71.4" cy="225.3" r="1.6" fill="#355e8d" stroke="#355e8d"/>
<circle cx="69.0" cy="222.4" r="1.6" fill="#3d4e8a" stroke="#3d4e8a"/>
<circle cx="86.7" cy="216.8" r="1.6" fill="#433d84" stroke="#433d84"/>
<circle cx="77.1" cy="230.6" r="1.6" fill="#39568c" stroke="#39568c"/>
<circle cx="69.1" cy="225.7" r="1.6" fill="#3c508b" stroke="#3c508b"/>
<circle cx="73.5" cy="229.0" r="1.6" fill="#443983" stroke="#443983"/>
<circle cx="88.5" cy="230.8" r="1.6" fill="#355f8d" stroke="#355f8d"/>
<circle cx="92.1" cy="213.1" r="1.6" fill="#463480" stroke="#463480"/>
<circle cx="76.5" cy="233.9" r="1.6" fill="#414287" stroke="#414287"/>
<circle cx="83.9" cy="233.5" r="1.6" fill="#32648e" stroke="#32648e"/>
<circle cx="73.1" cy="221.1" r="1.6" fill="#46337f" stroke="#46337f"/>
<circle cx="78.2" cy="217.3" r="1.6" fill="#3e4989" stroke="#3e4989"/>
<circle cx="77.8" cy="231.1" r="1.6" fill="#453581" stroke="#453581"/>
<circle cx="91.8" cy="218.8" r="1.6" fill="#26818e" stroke="#26818e"/>
<circle cx="92.0" cy="222.0" r="1.6" fill="#424086" stroke="#424086"/>
<circle cx="96.0" cy="214.1" r="1.6" fill="#3f4889" stroke="#3f4889"/>
<circle cx="80.6" cy="230.6" r="1.6" fill="#443a83" stroke="#443a83"/>
<circle cx="75.3" cy="225.6" r="1.6" fill="#3a538b" stroke="#3a538b"/>
<circle cx="85.0" cy="225.3" r="1.6" fill="#355e8d" stroke="#355e8d"/>
<circle cx="84.9" cy="225.6" r="1.6" fill="#31688e" stroke="#31688e"/>
<circle cx="92.0" cy="215.2" r="1.6" fill="#2a768e" stroke="#2a768e"/>
<circle cx="76.5" cy="215.3" r="1.6" fill="#433d84" stroke="#433d84"/>
<circle cx="97.2" cy="210.3" r="1.6" fill="#433d84" stroke="#433d84"/>
<circle cx="85.5" cy="230.4" r="1.6" fill="#355e8d" stroke="#355e8d"/>
<circle cx="76.5" cy="225.9" r="1.6" fill="#32648e" stroke="#32648e"/>
<circle cx="83.0" cy="234.4" r="1.6" fill="#20a386" stroke="#20a386"/>
<circle cx="85.5" cy="234.8" r="1.6" fill="#355f8d" stroke="#355f8d"/>
<circle cx="91.6" cy="210.6" r="1.6" fill="#3e4a89" stroke="#3e4a89"/>
<circle cx="74.2" cy="236.0" r="1.6" fill="#46327e" stroke="#46327e"/>
<circle cx="103.7" cy="226.6" r="1.6" fill="#3e4a89" stroke="#3e4a89"/>
<circle cx="86.2" cy="208.4" r="1.6" fill="#472d7b" stroke="#472d7b"/>
<circle cx="79.4" cy="225.6" r="1.6" fill="#3f4889" stroke="#3f4889"/>
<circle cx="83.6" cy="229.4" r="1.6" fill="#3b518b" stroke="#3b518b"/>
<circle cx="103.2" cy="208.2" r="1.6" fill="#3d4d8a" stroke="#3d4d8a"/>
<circle cx="88.8" cy="214.3" r="1.6" fill="#32648e" stroke="#32648e"/>
<circle cx="90.4" cy="228.8" r="1.6" fill="#3c508b" stroke="#3c508b"/>
<circle cx="84.6" cy="209.6" r="1.6" fill="#414487" stroke="#414487"/>
<circle cx="89.0" cy="223.3" r="1.6" fill="#443a83" stroke="#443a83"/>
<circle cx="77.8" cy="234.1" r="1.6" fill="#433e85" stroke="#433e85"/>
<circle cx="82.1" cy="224.8" r="1.6" fill="#3b528b" stroke="#3b528b"/>
<circle cx="76.1" cy="217.1" r="1.6" fill="#433d84" stroke="#433d84"/>
<circle cx="86.2" cy="227.4" r="1.6" fill="#3b528b" stroke="#3b528b"/>
<circle cx="80.7" cy="228.4" r="1.6" fill="#472e7c" stroke="#472e7c"/>
<circle cx="79.3" cy="230.9" r="1.6" fill="#472c7a" stroke="#472c7a"/>
<circle cx="80.3" cy="219.1" r="1.6" fill="#443983" stroke="#443983"/>
<circle cx="80.2" cy="224.4" r="1.6" fill="#404688" stroke="#404688"/>
<circle cx="99.0" cy="222.5" r="1.6" fill="#3a548c" stroke="#3a548c"/>
<circle cx="90.0" cy="209.9" r="1.6" fill="#453882" stroke="#453882"/>
<circle cx="118.4" cy="201.6" r="1.6" fill="#31678e" stroke="#31678e"/>
<circle cx="88.0" cy="213.2" r="1.6" fill="#29798e" stroke="#29798e"/>
<circle cx="107.3" cy="210.1" r="1.6" fill="#423f85" stroke="#423f85"/>
<circle cx="103.3" cy="191.1" r="1.6" fill="#33628d" stroke="#33628d"/>
<circle cx="113.9" cy="197.5" r="1.6" fill="#404588" stroke="#404588"/>
<circle cx="101.0" cy="200.5" r="1.6" fill="#443b84" stroke="#443b84"/>
<circle cx="108.6" cy="200.6" r="1.6" fill="#443a83" stroke="#443a83"/>
<circle cx="99.3" cy="204.2" r="1.6" fill="#3a538b" stroke="#3a538b"/>
<circle cx="122.2" cy="196.6" r="1.6" fill="#453581" stroke="#453581"/>
<circle cx="119.2" cy="204.2" r="1.6" fill="#453781" stroke="#453781"/>
<circle cx="123.0" cy="209.8" r="1.6" fill="#463480" stroke="#463480"/>
<circle cx="107.9" cy="199.7" r="1.6" fill="#3e4989" stroke="#3e4989"/>
<circle cx="102.9" cy="189.8" r="1.6" fill="#472f7d" stroke="#472f7d"/>
<circle cx="106.3" cy="190.2" r="1.6" fill="#463480" stroke="#463480"/>
<circle cx="115.8" cy="197.8" r="1.6" fill="#29af7f" stroke="#29af7f"/>
<circle cx="95.8" cy="209.7" r="1.6" fill="#3d4d8a" stroke="#3d4d8a"/>
<circle cx="116.6" cy="213.1" r="1.6" fill="#3bbb75" stroke="#3bbb75"/>
<circle cx="120.2" cy="209.6" r="1.6" fill="#355e8d" stroke="#355e8d"/>
<circle cx="94.7" cy="198.6" r="1.6" fill="#228b8d" stroke="#228b8d"/>
<circle cx="118.2" cy="217.9" r="1.6" fill="#31688e" stroke="#31688e"/>
<circle cx="98.4" cy="195.7" r="1.6" fill="#32658e" stroke="#32658e"/>
<circle cx="101.4" cy="213.6" r="1.6" fill="#423f85" stroke="#423f85"/>
<circle cx="103.0" cy="199.7" r="1.6" fill="#33628d" stroke="#33628d"/>
<circle cx="96.9" cy="196.6" r="1.6" fill="#472d7b" stroke="#472d7b"/>
<circle cx="123.4" cy="201.4" r="1.6" fill="#3a538b" stroke="#3a538b"/>
<circle cx="121.7" cy="210.8" r="1.6" fill="#423f85" stroke="#423f85"/>
<circle cx="96.0" cy="204.2" r="1.6" fill="#472c7a" stroke="#472c7a"/>
<circle cx="110.7" cy="216.1" r="1.6" fill="#414487" stroke="#414487"/>
<circle cx="103.6" cy="203.6" r="1.6" fill="#46307e" stroke="#46307e"/>
<circle cx="120.8" cy="205.0" r="1.6" fill="#32648e" stroke="#32648e"/>
<circle cx="99.5" cy="213.4" r="1.6" fill="#3c4f8a" stroke="#3c4f8a"/>
<circle cx="119.1" cy="201.1" r="1.6" fill="#3b518b" stroke="#3b518b"/>
<circle cx="90.4" cy="200.6" r="1.6" fill="#3b528b" stroke="#3b528b"/>
<circle cx="100.8" cy="212.2" r="1.6" fill="#31668e" stroke="#31668e"/>
<circle cx="85.3" cy="208.4" r="1.6" fill="#38588c" stroke="#38588c"/>
<circle cx="92.9" cy="202.2" r="1.6" fill="#433d84" stroke="#433d84"/>
<circle cx="100.0" cy="209.1" r="1.6" fill="#32648e" stroke="#32648e"/>
<circle cx="93.2" cy="207.1" r="1.6" fill="#46307e" stroke="#46307e"/>
<circle cx="120.5" cy="215.1" r="1.6" fill="#32648e" stroke="#32648e"/>
<circle cx="115.8" cy="197.9" r="1.6" fill="#3d4d8a" stroke="#3d4d8a"/>
<circle cx="115.6" cy="213.5" r="1.6" fill="#443983" stroke="#443983"/>
<circle cx="204.3" cy="19.5" r="1.6" fill="#69cd5b" stroke="#69cd5b"/>
<circle cx="176.4" cy="59.9" r="1.6" fill="#7fd34e" stroke="#7fd34e"/>
<circle cx="202.1" cy="55.3" r="1.6" fill="#7fd34e" stroke="#7fd34e"/>
<circle cx="180.4" cy="67.5" r="1.6" fill="#2e6e8e" stroke="#2e6e8e"/>
<circle cx="182.7" cy="69.1" r="1.6" fill="#7fd34e" stroke="#7fd34e"/>
<circle cx="190.9" cy="66.2" r="1.6" fill="#b0dd2f" stroke="#b0dd2f"/>
<circle cx="218.5" cy="63.3" r="1.6" fill="#20928c" stroke="#20928c"/>
<circle cx="219.2" cy="64.5" r="1.6" fill="#b0dd2f" stroke="#b0dd2f"/>
<circle cx="223.1" cy="64.3" r="1.6" fill="#7fd34e" stroke="#7fd34e"/>
<circle cx="235.3" cy="59.5" r="1.6" fill="#b0dd2f" stroke="#b0dd2f"/>
<circle cx="234.0" cy="62.5" r="1.6" fill="#2e6e8e" stroke="#2e6e8e"/>
<circle cx="148.2" cy="76.9" r="1.6" fill="#46327e" stroke="#46327e"/>
<circle cx="211.4" cy="77.3" r="1.6" fill="#35b779" stroke="#35b779"/>
<circle cx="235.4" cy="80.6" r="1.6" fill="#21a685" stroke="#21a685"/>
<circle cx="191.3" cy="88.2" r="1.6" fill="#25848e" stroke="#25848e"/>
<circle cx="212.6" cy="88.3" r="1.6" fill="#b0dd2f" stroke="#b0dd2f"/>
<circle cx="251.4" cy="56.8" r="1.6" fill="#1f9f88" stroke="#1f9f88"/>
<circle cx="258.0" cy="84.1" r="1.6" fill="#2e6e8e" stroke="#2e6e8e"/>
<circle cx="273.3" cy="195.1" r="1.6" fill="#2e6e8e" stroke="#2e6e8e"/>
<circle cx="159.4" cy="91.0" r="1.6" fill="#b0dd2f" stroke="#b0dd2f"/>
<circle cx="179.5" cy="91.0" r="1.6" fill="#b0dd2f" stroke="#b0dd2f"/>
<circle cx="180.1" cy="94.0" r="1.6" fill="#2e6e8e" stroke="#2e6e8e"/>
<circle cx="158.3" cy="95.7" r="1.6" fill="#d5e21a" stroke="#d5e21a"/>
<circle cx="163.7" cy="95.1" r="1.6" fill="#46327e" stroke="#46327e"/>
<circle cx="154.7" cy="99.0" r="1.6" fill="#21a685" stroke="#21a685"/>
<circle cx="166.1" cy="100.0" r="1.6" fill="#1f9f88" stroke="#1f9f88"/>
<circle cx="146.6" cy="105.9" r="1.6" fill="#25848e" stroke="#25848e"/>
<circle cx="154.3" cy="111.4" r="1.6" fill="#3e4c8a" stroke="#3e4c8a"/>
<circle cx="153.6" cy="112.7" r="1.6" fill="#404688" stroke="#404688"/>
<circle cx="160.4" cy="111.9" r="1.6" fill="#b0dd2f" stroke="#b0dd2f"/>
<circle cx="166.1" cy="109.7" r="1.6" fill="#b0dd2f" stroke="#b0dd2f"/>
<circle cx="165.1" cy="113.3" r="1.6" fill="#69cd5b" stroke="#69cd5b"/>
<circle cx="166.1" cy="116.9" r="1.6" fill="#2e6e8e" stroke="#2e6e8e"/>
<circle cx="187.6" cy="110.1" r="1.6" fill="#8bd646" stroke="#8bd646"/>
<circle cx="191.1" cy="110.0" r="1.6" fill="#33638d" stroke="#33638d"/>
<circle cx="208.3" cy="108.3" r="1.6" fill="#33638d" stroke="#33638d"/>
<circle cx="198.0" cy="113.3" r="1.6" fill="#1f9f88" stroke="#1f9f88"/>
<circle cx="201.1" cy="112.6" r="1.6" fill="#33638d" stroke="#33638d"/>
<circle cx="204.0" cy="114.0" r="1.6" fill="#69cd5b" stroke="#69cd5b"/>
<circle cx="211.9" cy="116.6" r="1.6" fill="#35b779" stroke="#35b779"/>
<circle cx="211.9" cy="119.7" r="1.6" fill="#2e6e8e" stroke="#2e6e8e"/>
<circle cx="221.1" cy="117.1" r="1.6" fill="#1f9f88" stroke="#1f9f88"/>
<circle cx="178.7" cy="116.9" r="1.6" fill="#20928c" stroke="#20928c"/>
<circle cx="182.3" cy="118.0" r="1.6" fill="#1f9f88" stroke="#1f9f88"/>
<circle cx="178.3" cy="120.4" r="1.6" fill="#33638d" stroke="#33638d"/>
<circle cx="147.6" cy="120.7" r="1.6" fill="#33638d" stroke="#33638d"/>
<circle cx="149.0" cy="120.7" r="1.6" fill="#31688e" stroke="#31688e"/>
<circle cx="157.1" cy="120.0" r="1.6" fill="#2e6e8e" stroke="#2e6e8e"/>
<circle cx="149.4" cy="125.4" r="1.6" fill="#1f9f88" stroke="#1f9f88"/>
<circle cx="172.6" cy="126.4" r="1.6" fill="#69cd5b" stroke="#69cd5b"/>
<circle cx="155.0" cy="129.2" r="1.6" fill="#25848e" stroke="#25848e"/>
<circle cx="163.3" cy="128.3" r="1.6" fill="#25848e" stroke="#25848e"/>
<circle cx="201.1" cy="127.7" r="1.6" fill="#2e6e8e" stroke="#2e6e8e"/>
<circle cx="131.7" cy="97.9" r="1.6" fill="#1f9f88" stroke="#1f9f88"/>
<circle cx="140.7" cy="101.8" r="1.6" fill="#2e6e8e" stroke="#2e6e8e"/>
<circle cx="138.1" cy="111.2" r="1.6" fill="#20928c" stroke="#20928c"/>
<circle cx="124.4" cy="113.4" r="1.6" fill="#3e4c8a" stroke="#3e4c8a"/>
<circle cx="138.6" cy="118.3" r="1.6" fill="#1f9f88" stroke="#1f9f88"/>
<circle cx="130.4" cy="123.6" r="1.6" fill="#1f9f88" stroke="#1f9f88"/>
<circle cx="137.1" cy="123.6" r="1.6" fill="#25ab82" stroke="#25ab82"/>
<circle cx="128.5" cy="126.4" r="1.6" fill="#8bd646" stroke="#8bd646"/>
<circle cx="135.4" cy="127.4" r="1.6" fill="#25848e" stroke="#25848e"/>
<circle cx="106.4" cy="135.4" r="1.6" fill="#3b518b" stroke="#3b518b"/>
<circle cx="125.0" cy="136.0" r="1.6" fill="#1f9f88" stroke="#1f9f88"/>
<circle cx="150.7" cy="136.0" r="1.6" fill="#3b518b" stroke="#3b518b"/>
<circle cx="157.1" cy="136.0" r="1.6" fill="#25848e" stroke="#25848e"/>
<circle cx="162.9" cy="136.0" r="1.6" fill="#d5e21a" stroke="#d5e21a"/>
<circle cx="145.4" cy="138.3" r="1.6" fill="#1f9f88" stroke="#1f9f88"/>
<circle cx="137.9" cy="139.3" r="1.6" fill="#2e6e8e" stroke="#2e6e8e"/>
<circle cx="150.0" cy="141.1" r="1.6" fill="#20928c" stroke="#20928c"/>
<circle cx="123.1" cy="146.0" r="1.6" fill="#1f9f88" stroke="#1f9f88"/>
<circle cx="137.1" cy="147.1" r="1.6" fill="#25848e" stroke="#25848e"/>
<circle cx="119.7" cy="150.3" r="1.6" fill="#2e6e8e" stroke="#2e6e8e"/>
<circle cx="151.4" cy="150.7" r="1.6" fill="#25ab82" stroke="#25ab82"/>
<circle cx="154.0" cy="149.0" r="1.6" fill="#2e6e8e" stroke="#2e6e8e"/>
<circle cx="156.4" cy="150.7" r="1.6" fill="#33638d" stroke="#33638d"/>
<circle cx="159.3" cy="154.3" r="1.6" fill="#1f9f88" stroke="#1f9f88"/>
<circle cx="117.1" cy="154.3" r="1.6" fill="#3b518b" stroke="#3b518b"/>
<circle cx="119.3" cy="156.4" r="1.6" fill="#3b518b" stroke="#3b518b"/>
<circle cx="121.1" cy="158.1" r="1.6" fill="#404688" stroke="#404688"/>
<circle cx="121.4" cy="159.9" r="1.6" fill="#46327e" stroke="#46327e"/>
<circle cx="125.7" cy="154.3" r="1.6" fill="#33638d" stroke="#33638d"/>
<circle cx="125.0" cy="156.1" r="1.6" fill="#33638d" stroke="#33638d"/>
<circle cx="137.4" cy="156.1" r="1.6" fill="#20928c" stroke="#20928c"/>
<circle cx="144.0" cy="154.7" r="1.6" fill="#3b518b" stroke="#3b518b"/>
<circle cx="145.7" cy="155.3" r="1.6" fill="#33638d" stroke="#33638d"/>
<circle cx="150.3" cy="155.3" r="1.6" fill="#25848e" stroke="#25848e"/>
<circle cx="138.3" cy="159.3" r="1.6" fill="#404688" stroke="#404688"/>
<circle cx="135.7" cy="162.4" r="1.6" fill="#25848e" stroke="#25848e"/>
<circle cx="139.7" cy="162.4" r="1.6" fill="#1f9f88" stroke="#1f9f88"/>
<circle cx="101.4" cy="161.4" r="1.6" fill="#20928c" stroke="#20928c"/>
<circle cx="107.9" cy="162.4" r="1.6" fill="#3c4f8a" stroke="#3c4f8a"/>
<circle cx="110.7" cy="163.3" r="1.6" fill="#481a6c" stroke="#481a6c"/>
<circle cx="156.4" cy="162.1" r="1.6" fill="#25848e" stroke="#25848e"/>
<circle cx="163.6" cy="162.4" r="1.6" fill="#21a685" stroke="#21a685"/>
<circle cx="177.9" cy="132.9" r="1.6" fill="#69cd5b" stroke="#69cd5b"/>
<circle cx="189.0" cy="131.9" r="1.6" fill="#33638d" stroke="#33638d"/>
<circle cx="189.3" cy="136.4" r="1.6" fill="#69cd5b" stroke="#69cd5b"/>
<circle cx="209.6" cy="131.7" r="1.6" fill="#69cd5b" stroke="#69cd5b"/>
<circle cx="196.7" cy="142.1" r="1.6" fill="#25848e" stroke="#25848e"/>
<circle cx="175.7" cy="141.9" r="1.6" fill="#b0dd2f" stroke="#b0dd2f"/>
<circle cx="172.1" cy="150.4" r="1.6" fill="#46327e" stroke="#46327e"/>
<circle cx="185.4" cy="168.9" r="1.6" fill="#33638d" stroke="#33638d"/>
<circle cx="163.9" cy="177.1" r="1.6" fill="#21a685" stroke="#21a685"/>
<circle cx="184.7" cy="179.0" r="1.6" fill="#287d8e" stroke="#287d8e"/>
<circle cx="162.6" cy="199.9" r="1.6" fill="#2e6e8e" stroke="#2e6e8e"/>
<circle cx="103.3" cy="165.0" r="1.6" fill="#453581" stroke="#453581"/>
<circle cx="109.0" cy="165.4" r="1.6" fill="#404688" stroke="#404688"/>
<circle cx="112.6" cy="166.4" r="1.6" fill="#375b8d" stroke="#375b8d"/>
<circle cx="116.1" cy="166.4" r="1.6" fill="#453581" stroke="#453581"/>
<circle cx="121.4" cy="165.7" r="1.6" fill="#375b8d" stroke="#375b8d"/>
<circle cx="119.3" cy="168.3" r="1.6" fill="#2c728e" stroke="#2c728e"/>
<circle cx="117.9" cy="169.7" r="1.6" fill="#481a6c" stroke="#481a6c"/>
<circle cx="111.4" cy="170.7" r="1.6" fill="#481a6c" stroke="#481a6c"/>
<circle cx="112.9" cy="169.3" r="1.6" fill="#2f6b8e" stroke="#2f6b8e"/>
<circle cx="91.1" cy="167.1" r="1.6" fill="#375b8d" stroke="#375b8d"/>
<circle cx="95.4" cy="168.1" r="1.6" fill="#375b8d" stroke="#375b8d"/>
<circle cx="89.3" cy="170.0" r="1.6" fill="#375b8d" stroke="#375b8d"/>
<circle cx="91.1" cy="174.0" r="1.6" fill="#453581" stroke="#453581"/>
<circle cx="109.3" cy="174.3" r="1.6" fill="#375b8d" stroke="#375b8d"/>
<circle cx="111.4" cy="174.7" r="1.6" fill="#453581" stroke="#453581"/>
<circle cx="122.1" cy="172.1" r="1.6" fill="#404688" stroke="#404688"/>
<circle cx="104.0" cy="176.9" r="1.6" fill="#471063" stroke="#471063"/>
<circle cx="108.6" cy="178.3" r="1.6" fill="#453581" stroke="#453581"/>
<circle cx="114.3" cy="178.6" r="1.6" fill="#481a6c" stroke="#481a6c"/>
<circle cx="117.9" cy="179.3" r="1.6" fill="#375b8d" stroke="#375b8d"/>
<circle cx="122.1" cy="178.6" r="1.6" fill="#2c728e" stroke="#2c728e"/>
<circle cx="95.4" cy="177.9" r="1.6" fill="#404688" stroke="#404688"/>
<circle cx="99.7" cy="179.0" r="1.6" fill="#375b8d" stroke="#375b8d"/>
<circle cx="94.3" cy="181.4" r="1.6" fill="#453581" stroke="#453581"/>
<circle cx="95.7" cy="182.9" r="1.6" fill="#404688" stroke="#404688"/>
<circle cx="100.4" cy="182.1" r="1.6" fill="#375b8d" stroke="#375b8d"/>
<circle cx="109.3" cy="181.4" r="1.6" fill="#2f6b8e" stroke="#2f6b8e"/>
<circle cx="113.6" cy="182.1" r="1.6" fill="#2f6b8e" stroke="#2f6b8e"/>
<circle cx="118.6" cy="182.1" r="1.6" fill="#375b8d" stroke="#375b8d"/>
<circle cx="124.3" cy="181.4" r="1.6" fill="#2c728e" stroke="#2c728e"/>
<circle cx="87.9" cy="183.6" r="1.6" fill="#375b8d" stroke="#375b8d"/>
<circle cx="90.7" cy="185.7" r="1.6" fill="#453581" stroke="#453581"/>
<circle cx="94.3" cy="185.0" r="1.6" fill="#481a6c" stroke="#481a6c"/>
<circle cx="97.1" cy="186.4" r="1.6" fill="#375b8d" stroke="#375b8d"/>
<circle cx="101.4" cy="185.0" r="1.6" fill="#375b8d" stroke="#375b8d"/>
<circle cx="104.3" cy="185.7" r="1.6" fill="#404688" stroke="#404688"/>
<circle cx="107.1" cy="185.7" r="1.6" fill="#453581" stroke="#453581"/>
<circle cx="110.0" cy="185.7" r="1.6" fill="#481a6c" stroke="#481a6c"/>
<circle cx="102.9" cy="188.6" r="1.6" fill="#2c728e" stroke="#2c728e"/>
<circle cx="107.1" cy="189.3" r="1.6" fill="#375b8d" stroke="#375b8d"/>
<circle cx="111.4" cy="188.6" r="1.6" fill="#2c728e" stroke="#2c728e"/>
<circle cx="118.6" cy="184.3" r="1.6" fill="#2c728e" stroke="#2c728e"/>
<circle cx="124.3" cy="186.4" r="1.6" fill="#375b8d" stroke="#375b8d"/>
<circle cx="86.4" cy="190.7" r="1.6" fill="#375b8d" stroke="#375b8d"/>
<circle cx="90.0" cy="190.0" r="1.6" fill="#481a6c" stroke="#481a6c"/>
<circle cx="95.0" cy="190.7" r="1.6" fill="#375b8d" stroke="#375b8d"/>
<circle cx="99.3" cy="190.7" r="1.6" fill="#453581" stroke="#453581"/>
<circle cx="116.4" cy="192.9" r="1.6" fill="#4ec36b" stroke="#4ec36b"/>
<circle cx="120.0" cy="191.4" r="1.6" fill="#404688" stroke="#404688"/>
<circle cx="122.9" cy="192.1" r="1.6" fill="#375b8d" stroke="#375b8d"/>
<circle cx="127.1" cy="192.9" r="1.6" fill="#375b8d" stroke="#375b8d"/>
<circle cx="109.3" cy="193.9" r="1.6" fill="#35b779" stroke="#35b779"/>
<circle cx="82.9" cy="198.3" r="1.6" fill="#481a6c" stroke="#481a6c"/>
<circle cx="87.1" cy="196.0" r="1.6" fill="#453581" stroke="#453581"/>
<circle cx="90.7" cy="197.4" r="1.6" fill="#481a6c" stroke="#481a6c"/>
<circle cx="95.0" cy="196.4" r="1.6" fill="#453581" stroke="#453581"/>
<circle cx="98.6" cy="197.9" r="1.6" fill="#404688" stroke="#404688"/>
<circle cx="104.3" cy="195.0" r="1.6" fill="#375b8d" stroke="#375b8d"/>
<circle cx="107.1" cy="196.4" r="1.6" fill="#404688" stroke="#404688"/>
<circle cx="111.4" cy="197.4" r="1.6" fill="#404688" stroke="#404688"/>
<circle cx="114.3" cy="197.4" r="1.6" fill="#1f9f88" stroke="#1f9f88"/>
<circle cx="120.0" cy="196.4" r="1.6" fill="#404688" stroke="#404688"/>
<circle cx="125.0" cy="197.4" r="1.6" fill="#2c728e" stroke="#2c728e"/>
<circle cx="127.1" cy="195.7" r="1.6" fill="#69cd5b" stroke="#69cd5b"/>
<circle cx="128.6" cy="198.6" r="1.6" fill="#375b8d" stroke="#375b8d"/>
<circle cx="131.4" cy="166.0" r="1.6" fill="#1f9f88" stroke="#1f9f88"/>
<circle cx="147.1" cy="165.0" r="1.6" fill="#1f9f88" stroke="#1f9f88"/>
<circle cx="129.7" cy="171.4" r="1.6" fill="#375b8d" stroke="#375b8d"/>
<circle cx="129.3" cy="174.0" r="1.6" fill="#2f6b8e" stroke="#2f6b8e"/>
<circle cx="140.7" cy="174.0" r="1.6" fill="#25848e" stroke="#25848e"/>
<circle cx="143.6" cy="171.7" r="1.6" fill="#1f9f88" stroke="#1f9f88"/>
<circle cx="145.0" cy="175.0" r="1.6" fill="#25848e" stroke="#25848e"/>
<circle cx="147.4" cy="172.1" r="1.6" fill="#2e6e8e" stroke="#2e6e8e"/>
<circle cx="154.6" cy="170.3" r="1.6" fill="#b0dd2f" stroke="#b0dd2f"/>
<circle cx="153.3" cy="174.7" r="1.6" fill="#69cd5b" stroke="#69cd5b"/>
<circle cx="142.9" cy="179.0" r="1.6" fill="#4ec36b" stroke="#4ec36b"/>
<circle cx="131.1" cy="179.0" r="1.6" fill="#375b8d" stroke="#375b8d"/>
<circle cx="128.6" cy="181.1" r="1.6" fill="#375b8d" stroke="#375b8d"/>
<circle cx="158.9" cy="183.1" r="1.6" fill="#25848e" stroke="#25848e"/>
<circle cx="125.0" cy="186.4" r="1.6" fill="#2f6b8e" stroke="#2f6b8e"/>
<circle cx="132.6" cy="187.4" r="1.6" fill="#3e4c8a" stroke="#3e4c8a"/>
<circle cx="132.9" cy="192.1" r="1.6" fill="#287d8e" stroke="#287d8e"/>
<circle cx="149.3" cy="188.3" r="1.6" fill="#1f9f88" stroke="#1f9f88"/>
<circle cx="148.3" cy="192.1" r="1.6" fill="#33638d" stroke="#33638d"/>
<circle cx="138.3" cy="194.3" r="1.6" fill="#25848e" stroke="#25848e"/>
<circle cx="141.4" cy="196.9" r="1.6" fill="#2e6e8e" stroke="#2e6e8e"/>
<circle cx="120.7" cy="190.7" r="1.6" fill="#404688" stroke="#404688"/>
<circle cx="124.3" cy="192.9" r="1.6" fill="#375b8d" stroke="#375b8d"/>
<circle cx="127.1" cy="194.3" r="1.6" fill="#404688" stroke="#404688"/>
<circle cx="130.0" cy="198.3" r="1.6" fill="#404688" stroke="#404688"/>
<circle cx="130.3" cy="197.9" r="1.6" fill="#404688" stroke="#404688"/>
<circle cx="144.3" cy="200.4" r="1.6" fill="#25848e" stroke="#25848e"/>
<circle cx="124.3" cy="202.9" r="1.6" fill="#b0dd2f" stroke="#b0dd2f"/>
<circle cx="128.6" cy="200.7" r="1.6" fill="#404688" stroke="#404688"/>
<circle cx="130.7" cy="201.0" r="1.6" fill="#453581" stroke="#453581"/>
<circle cx="133.6" cy="202.9" r="1.6" fill="#287d8e" stroke="#287d8e"/>
<circle cx="135.0" cy="205.3" r="1.6" fill="#287d8e" stroke="#287d8e"/>
<circle cx="121.1" cy="205.3" r="1.6" fill="#375b8d" stroke="#375b8d"/>
<circle cx="127.1" cy="206.1" r="1.6" fill="#2c728e" stroke="#2c728e"/>
<circle cx="142.6" cy="206.7" r="1.6" fill="#46327e" stroke="#46327e"/>
<circle cx="147.6" cy="204.7" r="1.6" fill="#3e4c8a" stroke="#3e4c8a"/>
<circle cx="149.3" cy="207.6" r="1.6" fill="#287d8e" stroke="#287d8e"/>
<circle cx="125.7" cy="207.9" r="1.6" fill="#404688" stroke="#404688"/>
<circle cx="126.4" cy="210.0" r="1.6" fill="#35b779" stroke="#35b779"/>
<circle cx="130.0" cy="210.7" r="1.6" fill="#1f9f88" stroke="#1f9f88"/>
<circle cx="133.6" cy="211.4" r="1.6" fill="#46327e" stroke="#46327e"/>
<circle cx="129.7" cy="213.3" r="1.6" fill="#453581" stroke="#453581"/>
<circle cx="123.6" cy="212.1" r="1.6" fill="#2c728e" stroke="#2c728e"/>
<circle cx="121.1" cy="212.1" r="1.6" fill="#375b8d" stroke="#375b8d"/>
<circle cx="142.9" cy="213.3" r="1.6" fill="#25848e" stroke="#25848e"/>
<circle cx="147.9" cy="210.7" r="1.6" fill="#2e6e8e" stroke="#2e6e8e"/>
<circle cx="149.3" cy="212.4" r="1.6" fill="#2e6e8e" stroke="#2e6e8e"/>
<circle cx="145.0" cy="215.0" r="1.6" fill="#2e6e8e" stroke="#2e6e8e"/>
<circle cx="121.4" cy="216.4" r="1.6" fill="#375b8d" stroke="#375b8d"/>
<circle cx="125.0" cy="217.1" r="1.6" fill="#1f9f88" stroke="#1f9f88"/>
<circle cx="123.6" cy="219.6" r="1.6" fill="#375b8d" stroke="#375b8d"/>
<circle cx="124.3" cy="221.4" r="1.6" fill="#404688" stroke="#404688"/>
<circle cx="134.6" cy="219.6" r="1.6" fill="#b0dd2f" stroke="#b0dd2f"/>
<circle cx="138.6" cy="219.6" r="1.6" fill="#e2e418" stroke="#e2e418"/>
<circle cx="120.7" cy="224.3" r="1.6" fill="#471063" stroke="#471063"/>
<circle cx="86.7" cy="191.1" r="1.6" fill="#453581" stroke="#453581"/>
<circle cx="89.4" cy="190.9" r="1.6" fill="#481a6c" stroke="#481a6c"/>
<circle cx="92.1" cy="191.8" r="1.6" fill="#404688" stroke="#404688"/>
<circle cx="87.1" cy="196.3" r="1.6" fill="#453581" stroke="#453581"/>
<circle cx="91.4" cy="198.0" r="1.6" fill="#453581" stroke="#453581"/>
<circle cx="94.3" cy="197.1" r="1.6" fill="#404688" stroke="#404688"/>
<circle cx="80.4" cy="200.3" r="1.6" fill="#453581" stroke="#453581"/>
<circle cx="83.1" cy="198.5" r="1.6" fill="#481a6c" stroke="#481a6c"/>
<circle cx="84.9" cy="202.5" r="1.6" fill="#404688" stroke="#404688"/>
<circle cx="86.3" cy="203.4" r="1.6" fill="#453581" stroke="#453581"/>
<circle cx="90.7" cy="203.4" r="1.6" fill="#404688" stroke="#404688"/>
<circle cx="92.5" cy="201.6" r="1.6" fill="#2c728e" stroke="#2c728e"/>
<circle cx="78.7" cy="207.4" r="1.6" fill="#2c728e" stroke="#2c728e"/>
<circle cx="77.8" cy="208.3" r="1.6" fill="#481a6c" stroke="#481a6c"/>
<circle cx="84.5" cy="207.0" r="1.6" fill="#481a6c" stroke="#481a6c"/>
<circle cx="87.6" cy="208.3" r="1.6" fill="#404688" stroke="#404688"/>
<circle cx="90.7" cy="207.9" r="1.6" fill="#404688" stroke="#404688"/>
<circle cx="94.3" cy="205.2" r="1.6" fill="#404688" stroke="#404688"/>
<circle cx="74.2" cy="212.3" r="1.6" fill="#453581" stroke="#453581"/>
<circle cx="78.2" cy="212.8" r="1.6" fill="#481a6c" stroke="#481a6c"/>
<circle cx="81.8" cy="212.3" r="1.6" fill="#404688" stroke="#404688"/>
<circle cx="85.8" cy="211.4" r="1.6" fill="#453581" stroke="#453581"/>
<circle cx="88.9" cy="210.5" r="1.6" fill="#404688" stroke="#404688"/>
<circle cx="92.5" cy="211.4" r="1.6" fill="#404688" stroke="#404688"/>
<circle cx="105.6" cy="210.0" r="1.6" fill="#b0dd2f" stroke="#b0dd2f"/>
<circle cx="111.3" cy="209.8" r="1.6" fill="#b0dd2f" stroke="#b0dd2f"/>
<circle cx="116.3" cy="213.8" r="1.6" fill="#b0dd2f" stroke="#b0dd2f"/>
<circle cx="118.1" cy="214.8" r="1.6" fill="#1f9f88" stroke="#1f9f88"/>
<circle cx="119.4" cy="210.0" r="1.6" fill="#2f6b8e" stroke="#2f6b8e"/>
<circle cx="124.4" cy="220.6" r="1.6" fill="#375b8d" stroke="#375b8d"/>
<circle cx="116.9" cy="221.9" r="1.6" fill="#375b8d" stroke="#375b8d"/>
<circle cx="111.3" cy="225.0" r="1.6" fill="#375b8d" stroke="#375b8d"/>
<circle cx="110.6" cy="229.4" r="1.6" fill="#375b8d" stroke="#375b8d"/>
<circle cx="100.6" cy="230.6" r="1.6" fill="#453581" stroke="#453581"/>
<circle cx="97.5" cy="231.3" r="1.6" fill="#453581" stroke="#453581"/>
<circle cx="106.3" cy="222.5" r="1.6" fill="#2c728e" stroke="#2c728e"/>
<circle cx="107.5" cy="226.3" r="1.6" fill="#404688" stroke="#404688"/>
<circle cx="102.5" cy="226.9" r="1.6" fill="#404688" stroke="#404688"/>
<circle cx="101.9" cy="220.6" r="1.6" fill="#453581" stroke="#453581"/>
<circle cx="98.1" cy="221.3" r="1.6" fill="#375b8d" stroke="#375b8d"/>
<circle cx="95.0" cy="221.3" r="1.6" fill="#b0dd2f" stroke="#b0dd2f"/>
<circle cx="116.6" cy="222.1" r="1.6" fill="#375b8d" stroke="#375b8d"/>
<circle cx="58.7" cy="228.9" r="1.6" fill="#2c728e" stroke="#2c728e"/>
<circle cx="58.2" cy="233.1" r="1.6" fill="#482475" stroke="#482475"/>
</g>
<line x1="58" y1="242.7" x2="273.75" y2="46.25" stroke="#ff1a1a" stroke-width="1.15"/>
<rect x="47.5" y="8.5" width="237.0" height="246.0" fill="none" stroke="#262626" stroke-width="1"/>
<line x1="72.40" y1="254.5" x2="72.40" y2="256.9" stroke="#333" stroke-width="0.7"/>
<text x="72.55" y="265.8" font-size="10.3" font-weight="bold" text-anchor="middle" textLength="22.0" lengthAdjust="spacingAndGlyphs">500</text>
<line x1="103.50" y1="254.5" x2="103.50" y2="256.9" stroke="#333" stroke-width="0.7"/>
<text x="103.65" y="265.8" font-size="10.3" font-weight="bold" text-anchor="middle" textLength="29.4" lengthAdjust="spacingAndGlyphs">1000</text>
<line x1="134.60" y1="254.5" x2="134.60" y2="256.9" stroke="#333" stroke-width="0.7"/>
<text x="134.75" y="265.8" font-size="10.3" font-weight="bold" text-anchor="middle" textLength="29.4" lengthAdjust="spacingAndGlyphs">1500</text>
<line x1="165.70" y1="254.5" x2="165.70" y2="256.9" stroke="#333" stroke-width="0.7"/>
<text x="165.85" y="265.8" font-size="10.3" font-weight="bold" text-anchor="middle" textLength="29.4" lengthAdjust="spacingAndGlyphs">2000</text>
<line x1="196.80" y1="254.5" x2="196.80" y2="256.9" stroke="#333" stroke-width="0.7"/>
<text x="196.95" y="265.8" font-size="10.3" font-weight="bold" text-anchor="middle" textLength="29.4" lengthAdjust="spacingAndGlyphs">2500</text>
<line x1="227.90" y1="254.5" x2="227.90" y2="256.9" stroke="#333" stroke-width="0.7"/>
<text x="228.05" y="265.8" font-size="10.3" font-weight="bold" text-anchor="middle" textLength="29.4" lengthAdjust="spacingAndGlyphs">3000</text>
<line x1="259.00" y1="254.5" x2="259.00" y2="256.9" stroke="#333" stroke-width="0.7"/>
<text x="259.15" y="265.8" font-size="10.3" font-weight="bold" text-anchor="middle" textLength="29.4" lengthAdjust="spacingAndGlyphs">3500</text>
<line x1="47.5" y1="240.50" x2="45.1" y2="240.50" stroke="#333" stroke-width="0.7"/>
<text x="44.2" y="244.60" font-size="10.3" font-weight="bold" text-anchor="end" textLength="7.3" lengthAdjust="spacingAndGlyphs">0</text>
<line x1="47.5" y1="193.78" x2="45.1" y2="193.78" stroke="#333" stroke-width="0.7"/>
<text x="44.2" y="197.88" font-size="10.3" font-weight="bold" text-anchor="end" textLength="29.2" lengthAdjust="spacingAndGlyphs">1000</text>
<line x1="47.5" y1="147.05" x2="45.1" y2="147.05" stroke="#333" stroke-width="0.7"/>
<text x="44.2" y="151.15" font-size="10.3" font-weight="bold" text-anchor="end" textLength="29.2" lengthAdjust="spacingAndGlyphs">2000</text>
<line x1="47.5" y1="100.32" x2="45.1" y2="100.32" stroke="#333" stroke-width="0.7"/>
<text x="44.2" y="104.42" font-size="10.3" font-weight="bold" text-anchor="end" textLength="29.2" lengthAdjust="spacingAndGlyphs">3000</text>
<line x1="47.5" y1="53.60" x2="45.1" y2="53.60" stroke="#333" stroke-width="0.7"/>
<text x="44.2" y="57.70" font-size="10.3" font-weight="bold" text-anchor="end" textLength="29.2" lengthAdjust="spacingAndGlyphs">4000</text>
<text x="165.8" y="277.6" font-size="10.3" font-weight="bold" text-anchor="middle" textLength="23.8" lengthAdjust="spacingAndGlyphs">SAD</text>
<text transform="translate(9.9,132.3) rotate(-90)" font-size="10.3" font-weight="bold" text-anchor="middle" textLength="15.6" lengthAdjust="spacingAndGlyphs">SD</text>
<defs><linearGradient id="ga" x1="0" y1="0" x2="0" y2="1"><stop offset="0.0000" stop-color="#ece51b"/><stop offset="0.0312" stop-color="#d8e219"/><stop offset="0.0625" stop-color="#c5e021"/><stop offset="0.0938" stop-color="#b2dd2d"/><stop offset="0.1250" stop-color="#9dd93b"/><stop offset="0.1562" stop-color="#8bd646"/><stop offset="0.1875" stop-color="#77d153"/><stop offset="0.2188" stop-color="#67cc5c"/><stop offset="0.2500" stop-color="#56c667"/><stop offset="0.2812" stop-color="#48c16e"/><stop offset="0.3125" stop-color="#3aba76"/><stop offset="0.3438" stop-color="#2fb47c"/><stop offset="0.3750" stop-color="#27ad81"/><stop offset="0.4062" stop-color="#21a685"/><stop offset="0.4375" stop-color="#1fa088"/><stop offset="0.4688" stop-color="#1f988b"/><stop offset="0.5000" stop-color="#20928c"/><stop offset="0.5312" stop-color="#238a8d"/><stop offset="0.5625" stop-color="#25838e"/><stop offset="0.5938" stop-color="#287c8e"/><stop offset="0.6250" stop-color="#2b758e"/><stop offset="0.6562" stop-color="#2e6f8e"/><stop offset="0.6875" stop-color="#31678e"/><stop offset="0.7188" stop-color="#34608d"/><stop offset="0.7500" stop-color="#38588c"/><stop offset="0.7812" stop-color="#3c508b"/><stop offset="0.8125" stop-color="#3f4788"/><stop offset="0.8438" stop-color="#423f85"/><stop offset="0.8750" stop-color="#453781"/><stop offset="0.9062" stop-color="#472d7b"/><stop offset="0.9375" stop-color="#482475"/><stop offset="0.9688" stop-color="#481a6c"/><stop offset="1.0000" stop-color="#471063"/></linearGradient></defs>
<rect x="299.5" y="39.5" width="9.0" height="184.0" fill="url(#ga)" fill-opacity="0.6"/>
<rect x="299.5" y="39.5" width="9.0" height="184.0" fill="none" stroke="#333" stroke-width="0.7"/>
<line x1="308.5" y1="215.81" x2="310.7" y2="215.81" stroke="#333" stroke-width="0.7"/>
<text x="312.6" y="219.51" font-size="10.0" textLength="14.4" lengthAdjust="spacingAndGlyphs" fill="#1a1a1a">0.1</text>
<line x1="308.5" y1="194.67" x2="310.7" y2="194.67" stroke="#333" stroke-width="0.7"/>
<text x="312.6" y="198.37" font-size="10.0" textLength="14.4" lengthAdjust="spacingAndGlyphs" fill="#1a1a1a">0.2</text>
<line x1="308.5" y1="173.53" x2="310.7" y2="173.53" stroke="#333" stroke-width="0.7"/>
<text x="312.6" y="177.23" font-size="10.0" textLength="14.4" lengthAdjust="spacingAndGlyphs" fill="#1a1a1a">0.3</text>
<line x1="308.5" y1="152.39" x2="310.7" y2="152.39" stroke="#333" stroke-width="0.7"/>
<text x="312.6" y="156.09" font-size="10.0" textLength="14.4" lengthAdjust="spacingAndGlyphs" fill="#1a1a1a">0.4</text>
<line x1="308.5" y1="131.25" x2="310.7" y2="131.25" stroke="#333" stroke-width="0.7"/>
<text x="312.6" y="134.95" font-size="10.0" textLength="14.4" lengthAdjust="spacingAndGlyphs" fill="#1a1a1a">0.5</text>
<line x1="308.5" y1="110.11" x2="310.7" y2="110.11" stroke="#333" stroke-width="0.7"/>
<text x="312.6" y="113.81" font-size="10.0" textLength="14.4" lengthAdjust="spacingAndGlyphs" fill="#1a1a1a">0.6</text>
<line x1="308.5" y1="88.97" x2="310.7" y2="88.97" stroke="#333" stroke-width="0.7"/>
<text x="312.6" y="92.67" font-size="10.0" textLength="14.4" lengthAdjust="spacingAndGlyphs" fill="#1a1a1a">0.7</text>
<line x1="308.5" y1="67.83" x2="310.7" y2="67.83" stroke="#333" stroke-width="0.7"/>
<text x="312.6" y="71.53" font-size="10.0" textLength="14.4" lengthAdjust="spacingAndGlyphs" fill="#1a1a1a">0.8</text>
<line x1="308.5" y1="46.69" x2="310.7" y2="46.69" stroke="#333" stroke-width="0.7"/>
<text x="312.6" y="50.39" font-size="10.0" textLength="14.4" lengthAdjust="spacingAndGlyphs" fill="#1a1a1a">0.9</text>
<text transform="translate(336.8,131.9) rotate(-90)" font-size="10.4" font-weight="bold" text-anchor="middle" textLength="127.2" lengthAdjust="spacingAndGlyphs">Migrant Resident Ratio</text>
<circle cx="470.0" cy="103.0" r="7.00" fill="#ece51b" fill-opacity="0.8"/>
<circle cx="481.5" cy="96.5" r="5.00" fill="#c8e020" fill-opacity="0.8"/>
<circle cx="517.0" cy="96.0" r="6.50" fill="#b8de29" fill-opacity="0.8"/>
<circle cx="505.7" cy="17.9" r="6.50" fill="#b8de29" fill-opacity="0.8"/>
<circle cx="546.1" cy="35.7" r="4.70" fill="#218e8d" fill-opacity="0.8"/>
<circle cx="505.2" cy="60.6" r="6.20" fill="#3dbc74" fill-opacity="0.8"/>
<circle cx="440.9" cy="76.1" r="3.80" fill="#355f8d" fill-opacity="0.8"/>
<circle cx="486.2" cy="86.3" r="3.50" fill="#355f8d" fill-opacity="0.8"/>
<circle cx="503.8" cy="85.2" r="3.30" fill="#404688" fill-opacity="0.8"/>
<circle cx="478.3" cy="98.0" r="4.00" fill="#23888e" fill-opacity="0.8"/>
<circle cx="489.3" cy="96.0" r="3.30" fill="#355f8d" fill-opacity="0.8"/>
<circle cx="485.2" cy="102.4" r="3.50" fill="#277f8e" fill-opacity="0.8"/>
<circle cx="477.7" cy="104.6" r="3.50" fill="#277f8e" fill-opacity="0.8"/>
<circle cx="489.8" cy="106.4" r="3.50" fill="#2b758e" fill-opacity="0.8"/>
<circle cx="499.6" cy="97.7" r="3.70" fill="#2e6f8e" fill-opacity="0.8"/>
<circle cx="508.6" cy="99.0" r="4.30" fill="#23888e" fill-opacity="0.8"/>
<circle cx="513.4" cy="99.7" r="4.00" fill="#23888e" fill-opacity="0.8"/>
<circle cx="510.0" cy="96.4" r="4.00" fill="#1f9e89" fill-opacity="0.8"/>
<circle cx="532.5" cy="103.8" r="4.00" fill="#2b758e" fill-opacity="0.8"/>
<circle cx="522.7" cy="108.0" r="4.50" fill="#23888e" fill-opacity="0.8"/>
<circle cx="518.0" cy="105.0" r="3.50" fill="#355f8d" fill-opacity="0.8"/>
<circle cx="520.0" cy="110.0" r="3.50" fill="#355f8d" fill-opacity="0.8"/>
<circle cx="512.3" cy="109.6" r="3.50" fill="#3d4d8a" fill-opacity="0.8"/>
<circle cx="465.0" cy="114.0" r="3.80" fill="#32658e" fill-opacity="0.8"/>
<circle cx="482.7" cy="112.7" r="5.00" fill="#20a386" fill-opacity="0.8"/>
<circle cx="490.0" cy="113.7" r="4.00" fill="#2b758e" fill-opacity="0.8"/>
<circle cx="509.6" cy="114.7" r="5.00" fill="#73d056" fill-opacity="0.8"/>
<circle cx="518.0" cy="119.0" r="5.30" fill="#20a386" fill-opacity="0.8"/>
<circle cx="523.7" cy="115.5" r="4.00" fill="#2b758e" fill-opacity="0.8"/>
<circle cx="530.4" cy="119.0" r="4.00" fill="#23888e" fill-opacity="0.8"/>
<circle cx="560.0" cy="114.3" r="4.50" fill="#1f978b" fill-opacity="0.8"/>
<circle cx="478.6" cy="119.6" r="4.50" fill="#2b758e" fill-opacity="0.8"/>
<circle cx="484.9" cy="119.8" r="3.50" fill="#3d4d8a" fill-opacity="0.8"/>
<circle cx="476.1" cy="126.2" r="4.00" fill="#2b758e" fill-opacity="0.8"/>
<circle cx="484.1" cy="125.4" r="5.00" fill="#20a386" fill-opacity="0.8"/>
<circle cx="488.9" cy="128.7" r="4.00" fill="#2b758e" fill-opacity="0.8"/>
<circle cx="503.4" cy="122.2" r="4.00" fill="#23888e" fill-opacity="0.8"/>
<circle cx="514.6" cy="122.2" r="4.50" fill="#2b758e" fill-opacity="0.8"/>
<circle cx="523.5" cy="116.6" r="4.00" fill="#23888e" fill-opacity="0.8"/>
<circle cx="501.8" cy="128.7" r="4.00" fill="#23888e" fill-opacity="0.8"/>
<circle cx="506.6" cy="131.1" r="4.00" fill="#23888e" fill-opacity="0.8"/>
<circle cx="516.3" cy="126.3" r="3.50" fill="#2b758e" fill-opacity="0.8"/>
<circle cx="521.0" cy="131.1" r="3.50" fill="#355f8d" fill-opacity="0.8"/>
<circle cx="527.5" cy="127.0" r="3.50" fill="#3d4d8a" fill-opacity="0.8"/>
<circle cx="534.7" cy="128.7" r="3.50" fill="#3d4d8a" fill-opacity="0.8"/>
<circle cx="553.8" cy="127.5" r="3.50" fill="#38588c" fill-opacity="0.8"/>
<circle cx="552.0" cy="129.3" r="3.30" fill="#3d4d8a" fill-opacity="0.8"/>
<circle cx="455.0" cy="130.0" r="3.30" fill="#3d4d8a" fill-opacity="0.8"/>
<circle cx="450.0" cy="136.3" r="4.00" fill="#2b758e" fill-opacity="0.8"/>
<circle cx="482.5" cy="135.9" r="5.00" fill="#20a386" fill-opacity="0.8"/>
<circle cx="490.5" cy="139.1" r="4.00" fill="#23888e" fill-opacity="0.8"/>
<circle cx="493.7" cy="139.9" r="4.00" fill="#2b758e" fill-opacity="0.8"/>
<circle cx="499.4" cy="138.3" r="4.00" fill="#2b758e" fill-opacity="0.8"/>
<circle cx="509.8" cy="139.1" r="4.00" fill="#23888e" fill-opacity="0.8"/>
<circle cx="517.0" cy="139.9" r="4.00" fill="#2b758e" fill-opacity="0.8"/>
<circle cx="530.7" cy="141.5" r="4.00" fill="#2b758e" fill-opacity="0.8"/>
<circle cx="472.9" cy="144.7" r="4.00" fill="#2b758e" fill-opacity="0.8"/>
<circle cx="477.7" cy="145.5" r="4.00" fill="#2b758e" fill-opacity="0.8"/>
<circle cx="480.9" cy="144.7" r="4.50" fill="#20a386" fill-opacity="0.8"/>
<circle cx="492.9" cy="146.3" r="4.00" fill="#2b758e" fill-opacity="0.8"/>
<circle cx="502.6" cy="144.7" r="4.00" fill="#2b758e" fill-opacity="0.8"/>
<circle cx="508.2" cy="145.5" r="4.00" fill="#23888e" fill-opacity="0.8"/>
<circle cx="455.0" cy="149.0" r="5.50" fill="#4ac16d" fill-opacity="0.8"/>
<circle cx="465.6" cy="151.1" r="4.50" fill="#23888e" fill-opacity="0.8"/>
<circle cx="468.0" cy="151.3" r="4.00" fill="#23888e" fill-opacity="0.8"/>
<circle cx="485.7" cy="150.3" r="3.50" fill="#3d4d8a" fill-opacity="0.8"/>
<circle cx="490.5" cy="152.0" r="4.00" fill="#23888e" fill-opacity="0.8"/>
<circle cx="501.0" cy="156.8" r="4.00" fill="#2b758e" fill-opacity="0.8"/>
<circle cx="514.6" cy="154.4" r="3.80" fill="#355f8d" fill-opacity="0.8"/>
<circle cx="493.7" cy="157.8" r="3.00" fill="#482576" fill-opacity="0.8"/>
<circle cx="532.3" cy="158.5" r="4.00" fill="#23888e" fill-opacity="0.8"/>
<circle cx="534.5" cy="164.5" r="4.00" fill="#23888e" fill-opacity="0.8"/>
<circle cx="495.5" cy="165.0" r="4.50" fill="#20a386" fill-opacity="0.8"/>
<circle cx="508.8" cy="165.5" r="5.50" fill="#4ac16d" fill-opacity="0.8"/>
<circle cx="502.5" cy="169.5" r="4.50" fill="#23888e" fill-opacity="0.8"/>
<circle cx="460.0" cy="166.3" r="3.50" fill="#355f8d" fill-opacity="0.8"/>
<circle cx="469.5" cy="165.0" r="4.00" fill="#2b758e" fill-opacity="0.8"/>
<circle cx="458.8" cy="174.5" r="3.50" fill="#355f8d" fill-opacity="0.8"/>
<circle cx="478.3" cy="177.5" r="4.00" fill="#23888e" fill-opacity="0.8"/>
<circle cx="470.0" cy="186.8" r="4.50" fill="#20a386" fill-opacity="0.8"/>
<path d="M394.09,171.41 L395.22,166.48 L396.34,161.78 L397.47,157.29 L398.59,152.99 L399.72,148.87 L400.84,144.91 L401.97,141.09 L403.09,137.41 L404.22,133.85 L405.34,130.41 L406.47,127.08 L407.59,123.86 L408.72,120.73 L409.84,117.69 L410.97,114.74 L412.09,111.87 L413.22,109.08 L414.34,106.37 L415.47,103.73 L416.59,101.16 L417.72,98.65 L418.84,96.21 L419.96,93.82 L421.09,91.50 L422.21,89.24 L423.34,87.03 L424.46,84.87 L425.59,82.76 L426.71,80.71 L427.84,78.70 L428.96,76.74 L430.09,74.83 L431.21,72.96 L432.34,71.13 L433.46,69.35 L434.59,67.61 L435.71,65.90 L436.84,64.24 L437.96,62.62 L439.09,61.03 L440.21,59.49 L441.34,57.97 L442.46,56.50 L443.59,55.06 L444.71,53.65 L445.83,52.28 L446.96,50.94 L448.08,49.63 L449.21,48.35 L450.33,47.11 L451.46,45.89 L452.58,44.71 L453.71,43.56 L454.83,42.44 L455.96,41.34 L457.08,40.28 L458.21,39.24 L459.33,38.24 L460.46,37.26 L461.58,36.30 L462.71,35.38 L463.83,34.48 L464.96,33.61 L466.08,32.76 L467.21,31.95 L468.33,31.15 L469.45,30.39 L470.58,29.64 L471.70,28.93 L472.83,28.23 L473.95,27.57 L475.08,26.93 L476.20,26.31 L477.33,25.71 L478.45,25.14 L479.58,24.60 L480.70,24.08 L481.83,23.58 L482.95,23.10 L484.08,22.65 L485.20,22.22 L486.33,21.82 L487.45,21.44 L488.58,21.08 L489.70,20.74 L490.83,20.43 L491.95,20.14 L493.08,19.87 L494.20,19.63 L495.32,19.40 L496.45,19.20 L497.57,19.02 L498.70,18.87 L499.82,18.74 L500.95,18.62 L502.07,18.54 L503.20,18.47 L504.32,18.42 L505.45,18.40 L506.57,18.40 L507.70,18.42 L508.82,18.47 L509.95,18.54 L511.07,18.62 L512.20,18.74 L513.32,18.87 L514.45,19.02 L515.57,19.20 L516.70,19.40 L517.82,19.63 L518.94,19.87 L520.07,20.14 L521.19,20.43 L522.32,20.74 L523.44,21.08 L524.57,21.44 L525.69,21.82 L526.82,22.22 L527.94,22.65 L529.07,23.10 L530.19,23.58 L531.32,24.08 L532.44,24.60 L533.57,25.14 L534.69,25.71 L535.82,26.31 L536.94,26.93 L538.07,27.57 L539.19,28.23 L540.32,28.93 L541.44,29.64 L542.57,30.39 L543.69,31.15 L544.81,31.95 L545.94,32.76 L547.06,33.61 L548.19,34.48 L549.31,35.38 L550.44,36.30 L551.56,37.26 L552.69,38.24 L553.81,39.24 L554.94,40.28 L556.06,41.34 L557.19,42.44 L558.31,43.56 L559.44,44.71 L560.56,45.89 L561.69,47.11 L562.81,48.35 L563.94,49.63 L565.06,50.94 L566.19,52.28 L567.31,53.65 L568.43,55.06 L569.56,56.50 L570.68,57.97 L571.81,59.49 L572.93,61.03 L574.06,62.62 L575.18,64.24 L576.31,65.90 L577.43,67.61 L578.56,69.35 L579.68,71.13 L580.81,72.96 L581.93,74.83 L583.06,76.74 L584.18,78.70 L585.31,80.71 L586.43,82.76 L587.56,84.87 L588.68,87.03 L589.81,89.24 L590.93,91.50 L592.06,93.82 L593.18,96.21 L594.30,98.65 L595.43,101.16 L596.55,103.73 L597.68,106.37 L598.80,109.08 L599.93,111.87 L601.05,114.74 L602.18,117.69 L603.30,120.73 L604.43,123.86 L605.55,127.08 L606.68,130.41 L607.80,133.85 L608.93,137.41 L610.05,141.09 L611.18,144.91 L612.30,148.87 L613.43,152.99 L614.55,157.29 L615.68,161.78 L616.80,166.48 L617.92,171.41" fill="none" stroke="#111" stroke-width="1.0" stroke-dasharray="2.62,1.277"/>
<path d="M394.09,195.06 L395.22,191.11 L396.34,187.35 L397.47,183.76 L398.59,180.32 L399.72,177.03 L400.84,173.86 L401.97,170.80 L403.09,167.86 L404.22,165.01 L405.34,162.26 L406.47,159.60 L407.59,157.01 L408.72,154.51 L409.84,152.08 L410.97,149.72 L412.09,147.43 L413.22,145.20 L414.34,143.03 L415.47,140.91 L416.59,138.85 L417.72,136.85 L418.84,134.90 L419.96,132.99 L421.09,131.13 L422.21,129.32 L423.34,127.55 L424.46,125.83 L425.59,124.14 L426.71,122.50 L427.84,120.89 L428.96,119.32 L430.09,117.79 L431.21,116.30 L432.34,114.84 L433.46,113.41 L434.59,112.01 L435.71,110.65 L436.84,109.32 L437.96,108.03 L439.09,106.76 L440.21,105.52 L441.34,104.31 L442.46,103.13 L443.59,101.97 L444.71,100.85 L445.83,99.75 L446.96,98.68 L448.08,97.63 L449.21,96.61 L450.33,95.62 L451.46,94.65 L452.58,93.70 L453.71,92.78 L454.83,91.88 L455.96,91.01 L457.08,90.15 L458.21,89.32 L459.33,88.52 L460.46,87.73 L461.58,86.97 L462.71,86.23 L463.83,85.51 L464.96,84.82 L466.08,84.14 L467.21,83.49 L468.33,82.85 L469.45,82.24 L470.58,81.64 L471.70,81.07 L472.83,80.52 L473.95,79.98 L475.08,79.47 L476.20,78.98 L477.33,78.50 L478.45,78.05 L479.58,77.61 L480.70,77.19 L481.83,76.79 L482.95,76.41 L484.08,76.05 L485.20,75.71 L486.33,75.39 L487.45,75.08 L488.58,74.79 L489.70,74.52 L490.83,74.27 L491.95,74.04 L493.08,73.83 L494.20,73.63 L495.32,73.45 L496.45,73.29 L497.57,73.15 L498.70,73.03 L499.82,72.92 L500.95,72.83 L502.07,72.76 L503.20,72.71 L504.32,72.67 L505.45,72.65 L506.57,72.65 L507.70,72.67 L508.82,72.71 L509.95,72.76 L511.07,72.83 L512.20,72.92 L513.32,73.03 L514.45,73.15 L515.57,73.29 L516.70,73.45 L517.82,73.63 L518.94,73.83 L520.07,74.04 L521.19,74.27 L522.32,74.52 L523.44,74.79 L524.57,75.08 L525.69,75.39 L526.82,75.71 L527.94,76.05 L529.07,76.41 L530.19,76.79 L531.32,77.19 L532.44,77.61 L533.57,78.05 L534.69,78.50 L535.82,78.98 L536.94,79.47 L538.07,79.98 L539.19,80.52 L540.32,81.07 L541.44,81.64 L542.57,82.24 L543.69,82.85 L544.81,83.49 L545.94,84.14 L547.06,84.82 L548.19,85.51 L549.31,86.23 L550.44,86.97 L551.56,87.73 L552.69,88.52 L553.81,89.32 L554.94,90.15 L556.06,91.01 L557.19,91.88 L558.31,92.78 L559.44,93.70 L560.56,94.65 L561.69,95.62 L562.81,96.61 L563.94,97.63 L565.06,98.68 L566.19,99.75 L567.31,100.85 L568.43,101.97 L569.56,103.13 L570.68,104.31 L571.81,105.52 L572.93,106.76 L574.06,108.03 L575.18,109.32 L576.31,110.65 L577.43,112.01 L578.56,113.41 L579.68,114.84 L580.81,116.30 L581.93,117.79 L583.06,119.32 L584.18,120.89 L585.31,122.50 L586.43,124.14 L587.56,125.83 L588.68,127.55 L589.81,129.32 L590.93,131.13 L592.06,132.99 L593.18,134.90 L594.30,136.85 L595.43,138.85 L596.55,140.91 L597.68,143.03 L598.80,145.20 L599.93,147.43 L601.05,149.72 L602.18,152.08 L603.30,154.51 L604.43,157.01 L605.55,159.60 L606.68,162.26 L607.80,165.01 L608.93,167.86 L610.05,170.80 L611.18,173.86 L612.30,177.03 L613.43,180.32 L614.55,183.76 L615.68,187.35 L616.80,191.11 L617.92,195.06" fill="none" stroke="#111" stroke-width="1.0" stroke-dasharray="2.62,1.277"/>
<path d="M394.09,218.71 L395.22,215.75 L396.34,212.93 L397.47,210.23 L398.59,207.66 L399.72,205.18 L400.84,202.80 L401.97,200.51 L403.09,198.30 L404.22,196.17 L405.34,194.11 L406.47,192.11 L407.59,190.17 L408.72,188.30 L409.84,186.47 L410.97,184.70 L412.09,182.98 L413.22,181.31 L414.34,179.68 L415.47,178.10 L416.59,176.55 L417.72,175.05 L418.84,173.58 L419.96,172.15 L421.09,170.76 L422.21,169.40 L423.34,168.08 L424.46,166.78 L425.59,165.52 L426.71,164.28 L427.84,163.08 L428.96,161.90 L430.09,160.76 L431.21,159.63 L432.34,158.54 L433.46,157.47 L434.59,156.42 L435.71,155.40 L436.84,154.41 L437.96,153.43 L439.09,152.48 L440.21,151.55 L441.34,150.64 L442.46,149.76 L443.59,148.89 L444.71,148.05 L445.83,147.23 L446.96,146.42 L448.08,145.64 L449.21,144.87 L450.33,144.12 L451.46,143.40 L452.58,142.69 L453.71,142.00 L454.83,141.32 L455.96,140.67 L457.08,140.03 L458.21,139.41 L459.33,138.80 L460.46,138.21 L461.58,137.64 L462.71,137.09 L463.83,136.55 L464.96,136.03 L466.08,135.52 L467.21,135.03 L468.33,134.55 L469.45,134.09 L470.58,133.65 L471.70,133.22 L472.83,132.80 L473.95,132.40 L475.08,132.02 L476.20,131.64 L477.33,131.29 L478.45,130.95 L479.58,130.62 L480.70,130.31 L481.83,130.01 L482.95,129.72 L484.08,129.45 L485.20,129.19 L486.33,128.95 L487.45,128.72 L488.58,128.51 L489.70,128.31 L490.83,128.12 L491.95,127.94 L493.08,127.78 L494.20,127.64 L495.32,127.50 L496.45,127.38 L497.57,127.27 L498.70,127.18 L499.82,127.10 L500.95,127.03 L502.07,126.98 L503.20,126.94 L504.32,126.91 L505.45,126.90 L506.57,126.90 L507.70,126.91 L508.82,126.94 L509.95,126.98 L511.07,127.03 L512.20,127.10 L513.32,127.18 L514.45,127.27 L515.57,127.38 L516.70,127.50 L517.82,127.64 L518.94,127.78 L520.07,127.94 L521.19,128.12 L522.32,128.31 L523.44,128.51 L524.57,128.72 L525.69,128.95 L526.82,129.19 L527.94,129.45 L529.07,129.72 L530.19,130.01 L531.32,130.31 L532.44,130.62 L533.57,130.95 L534.69,131.29 L535.82,131.64 L536.94,132.02 L538.07,132.40 L539.19,132.80 L540.32,133.22 L541.44,133.65 L542.57,134.09 L543.69,134.55 L544.81,135.03 L545.94,135.52 L547.06,136.03 L548.19,136.55 L549.31,137.09 L550.44,137.64 L551.56,138.21 L552.69,138.80 L553.81,139.41 L554.94,140.03 L556.06,140.67 L557.19,141.32 L558.31,142.00 L559.44,142.69 L560.56,143.40 L561.69,144.12 L562.81,144.87 L563.94,145.64 L565.06,146.42 L566.19,147.23 L567.31,148.05 L568.43,148.89 L569.56,149.76 L570.68,150.64 L571.81,151.55 L572.93,152.48 L574.06,153.43 L575.18,154.41 L576.31,155.40 L577.43,156.42 L578.56,157.47 L579.68,158.54 L580.81,159.63 L581.93,160.76 L583.06,161.90 L584.18,163.08 L585.31,164.28 L586.43,165.52 L587.56,166.78 L588.68,168.08 L589.81,169.40 L590.93,170.76 L592.06,172.15 L593.18,173.58 L594.30,175.05 L595.43,176.55 L596.55,178.10 L597.68,179.68 L598.80,181.31 L599.93,182.98 L601.05,184.70 L602.18,186.47 L603.30,188.30 L604.43,190.17 L605.55,192.11 L606.68,194.11 L607.80,196.17 L608.93,198.30 L610.05,200.51 L611.18,202.80 L612.30,205.18 L613.43,207.66 L614.55,210.23 L615.68,212.93 L616.80,215.75 L617.92,218.71" fill="none" stroke="#111" stroke-width="1.0" stroke-dasharray="2.62,1.277"/>
<path d="M394.09,242.36 L395.22,240.38 L396.34,238.50 L397.47,236.71 L398.59,234.99 L399.72,233.34 L400.84,231.75 L401.97,230.23 L403.09,228.75 L404.22,227.33 L405.34,225.95 L406.47,224.62 L407.59,223.33 L408.72,222.08 L409.84,220.87 L410.97,219.69 L412.09,218.54 L413.22,217.42 L414.34,216.34 L415.47,215.28 L416.59,214.25 L417.72,213.25 L418.84,212.27 L419.96,211.32 L421.09,210.39 L422.21,209.48 L423.34,208.60 L424.46,207.74 L425.59,206.90 L426.71,206.07 L427.84,205.27 L428.96,204.49 L430.09,203.72 L431.21,202.97 L432.34,202.24 L433.46,201.53 L434.59,200.83 L435.71,200.15 L436.84,199.49 L437.96,198.84 L439.09,198.20 L440.21,197.58 L441.34,196.98 L442.46,196.39 L443.59,195.81 L444.71,195.25 L445.83,194.70 L446.96,194.16 L448.08,193.64 L449.21,193.13 L450.33,192.63 L451.46,192.15 L452.58,191.67 L453.71,191.21 L454.83,190.76 L455.96,190.33 L457.08,189.90 L458.21,189.49 L459.33,189.08 L460.46,188.69 L461.58,188.31 L462.71,187.94 L463.83,187.58 L464.96,187.23 L466.08,186.90 L467.21,186.57 L468.33,186.25 L469.45,185.94 L470.58,185.65 L471.70,185.36 L472.83,185.08 L473.95,184.82 L475.08,184.56 L476.20,184.31 L477.33,184.08 L478.45,183.85 L479.58,183.63 L480.70,183.42 L481.83,183.22 L482.95,183.03 L484.08,182.85 L485.20,182.68 L486.33,182.52 L487.45,182.37 L488.58,182.22 L489.70,182.09 L490.83,181.96 L491.95,181.85 L493.08,181.74 L494.20,181.64 L495.32,181.55 L496.45,181.47 L497.57,181.40 L498.70,181.34 L499.82,181.28 L500.95,181.24 L502.07,181.20 L503.20,181.18 L504.32,181.16 L505.45,181.15 L506.57,181.15 L507.70,181.16 L508.82,181.18 L509.95,181.20 L511.07,181.24 L512.20,181.28 L513.32,181.34 L514.45,181.40 L515.57,181.47 L516.70,181.55 L517.82,181.64 L518.94,181.74 L520.07,181.85 L521.19,181.96 L522.32,182.09 L523.44,182.22 L524.57,182.37 L525.69,182.52 L526.82,182.68 L527.94,182.85 L529.07,183.03 L530.19,183.22 L531.32,183.42 L532.44,183.63 L533.57,183.85 L534.69,184.08 L535.82,184.31 L536.94,184.56 L538.07,184.82 L539.19,185.08 L540.32,185.36 L541.44,185.65 L542.57,185.94 L543.69,186.25 L544.81,186.57 L545.94,186.90 L547.06,187.23 L548.19,187.58 L549.31,187.94 L550.44,188.31 L551.56,188.69 L552.69,189.08 L553.81,189.49 L554.94,189.90 L556.06,190.33 L557.19,190.76 L558.31,191.21 L559.44,191.67 L560.56,192.15 L561.69,192.63 L562.81,193.13 L563.94,193.64 L565.06,194.16 L566.19,194.70 L567.31,195.25 L568.43,195.81 L569.56,196.39 L570.68,196.98 L571.81,197.58 L572.93,198.20 L574.06,198.84 L575.18,199.49 L576.31,200.15 L577.43,200.83 L578.56,201.53 L579.68,202.24 L580.81,202.97 L581.93,203.72 L583.06,204.49 L584.18,205.27 L585.31,206.07 L586.43,206.90 L587.56,207.74 L588.68,208.60 L589.81,209.48 L590.93,210.39 L592.06,211.32 L593.18,212.27 L594.30,213.25 L595.43,214.25 L596.55,215.28 L597.68,216.34 L598.80,217.42 L599.93,218.54 L601.05,219.69 L602.18,220.87 L603.30,222.08 L604.43,223.33 L605.55,224.62 L606.68,225.95 L607.80,227.33 L608.93,228.75 L610.05,230.23 L611.18,231.75 L612.30,233.34 L613.43,234.99 L614.55,236.71 L615.68,238.50 L616.80,240.38 L617.92,242.36" fill="none" stroke="#111" stroke-width="1.0" stroke-dasharray="2.62,1.277"/>
<rect x="382.5" y="7.5" width="247.0" height="246.0" fill="none" stroke="#262626" stroke-width="1"/>
<line x1="431.40" y1="253.5" x2="431.40" y2="255.9" stroke="#333" stroke-width="0.7"/>
<text x="431.20" y="265" font-size="10.3" font-weight="bold" text-anchor="middle" textLength="18.2" lengthAdjust="spacingAndGlyphs">0.2</text>
<line x1="481.14" y1="253.5" x2="481.14" y2="255.9" stroke="#333" stroke-width="0.7"/>
<text x="480.94" y="265" font-size="10.3" font-weight="bold" text-anchor="middle" textLength="18.2" lengthAdjust="spacingAndGlyphs">0.4</text>
<line x1="530.88" y1="253.5" x2="530.88" y2="255.9" stroke="#333" stroke-width="0.7"/>
<text x="530.68" y="265" font-size="10.3" font-weight="bold" text-anchor="middle" textLength="18.2" lengthAdjust="spacingAndGlyphs">0.6</text>
<line x1="580.62" y1="253.5" x2="580.62" y2="255.9" stroke="#333" stroke-width="0.7"/>
<text x="580.42" y="265" font-size="10.3" font-weight="bold" text-anchor="middle" textLength="18.2" lengthAdjust="spacingAndGlyphs">0.8</text>
<line x1="382.5" y1="235.40" x2="380.1" y2="235.40" stroke="#333" stroke-width="0.7"/>
<text x="378.8" y="239.35" font-size="10.3" font-weight="bold" text-anchor="end" textLength="17.6" lengthAdjust="spacingAndGlyphs">0.1</text>
<line x1="382.5" y1="181.15" x2="380.1" y2="181.15" stroke="#333" stroke-width="0.7"/>
<text x="378.8" y="185.10" font-size="10.3" font-weight="bold" text-anchor="end" textLength="17.6" lengthAdjust="spacingAndGlyphs">0.2</text>
<line x1="382.5" y1="126.90" x2="380.1" y2="126.90" stroke="#333" stroke-width="0.7"/>
<text x="378.8" y="130.85" font-size="10.3" font-weight="bold" text-anchor="end" textLength="17.6" lengthAdjust="spacingAndGlyphs">0.3</text>
<line x1="382.5" y1="72.65" x2="380.1" y2="72.65" stroke="#333" stroke-width="0.7"/>
<text x="378.8" y="76.60" font-size="10.3" font-weight="bold" text-anchor="end" textLength="17.6" lengthAdjust="spacingAndGlyphs">0.4</text>
<line x1="382.5" y1="18.40" x2="380.1" y2="18.40" stroke="#333" stroke-width="0.7"/>
<text x="378.8" y="22.35" font-size="10.3" font-weight="bold" text-anchor="end" textLength="17.6" lengthAdjust="spacingAndGlyphs">0.5</text>
<text x="506.3" y="277.4" font-size="11.6" font-weight="bold" text-anchor="middle">&#956;</text>
<text transform="translate(356.4,130.6) rotate(-90)" font-size="12.4" font-weight="bold" text-anchor="middle">&#963;</text>
<defs><linearGradient id="gb" x1="0" y1="0" x2="0" y2="1"><stop offset="0.0000" stop-color="#ece51b"/><stop offset="0.0312" stop-color="#d8e219"/><stop offset="0.0625" stop-color="#c5e021"/><stop offset="0.0938" stop-color="#b2dd2d"/><stop offset="0.1250" stop-color="#9dd93b"/><stop offset="0.1562" stop-color="#8bd646"/><stop offset="0.1875" stop-color="#77d153"/><stop offset="0.2188" stop-color="#67cc5c"/><stop offset="0.2500" stop-color="#56c667"/><stop offset="0.2812" stop-color="#48c16e"/><stop offset="0.3125" stop-color="#3aba76"/><stop offset="0.3438" stop-color="#2fb47c"/><stop offset="0.3750" stop-color="#27ad81"/><stop offset="0.4062" stop-color="#21a685"/><stop offset="0.4375" stop-color="#1fa088"/><stop offset="0.4688" stop-color="#1f988b"/><stop offset="0.5000" stop-color="#20928c"/><stop offset="0.5312" stop-color="#238a8d"/><stop offset="0.5625" stop-color="#25838e"/><stop offset="0.5938" stop-color="#287c8e"/><stop offset="0.6250" stop-color="#2b758e"/><stop offset="0.6562" stop-color="#2e6f8e"/><stop offset="0.6875" stop-color="#31678e"/><stop offset="0.7188" stop-color="#34608d"/><stop offset="0.7500" stop-color="#38588c"/><stop offset="0.7812" stop-color="#3c508b"/><stop offset="0.8125" stop-color="#3f4788"/><stop offset="0.8438" stop-color="#423f85"/><stop offset="0.8750" stop-color="#453781"/><stop offset="0.9062" stop-color="#472d7b"/><stop offset="0.9375" stop-color="#482475"/><stop offset="0.9688" stop-color="#481a6c"/><stop offset="1.0000" stop-color="#471063"/></linearGradient></defs>
<rect x="644.5" y="37.9" width="10.0" height="184.6" fill="url(#gb)" fill-opacity="0.8"/>
<rect x="644.5" y="37.9" width="10.0" height="184.6" fill="none" stroke="#8a8a9a" stroke-width="0.8"/>
<line x1="654.5" y1="222.50" x2="656.7" y2="222.50" stroke="#333" stroke-width="0.7"/>
<text x="657.6" y="226.20" font-size="10.0" textLength="14.4" lengthAdjust="spacingAndGlyphs" fill="#1a1a1a">0.0</text>
<line x1="654.5" y1="196.89" x2="656.7" y2="196.89" stroke="#333" stroke-width="0.7"/>
<text x="657.6" y="200.59" font-size="10.0" textLength="14.4" lengthAdjust="spacingAndGlyphs" fill="#1a1a1a">0.1</text>
<line x1="654.5" y1="171.27" x2="656.7" y2="171.27" stroke="#333" stroke-width="0.7"/>
<text x="657.6" y="174.97" font-size="10.0" textLength="14.4" lengthAdjust="spacingAndGlyphs" fill="#1a1a1a">0.2</text>
<line x1="654.5" y1="145.66" x2="656.7" y2="145.66" stroke="#333" stroke-width="0.7"/>
<text x="657.6" y="149.36" font-size="10.0" textLength="14.4" lengthAdjust="spacingAndGlyphs" fill="#1a1a1a">0.3</text>
<line x1="654.5" y1="120.04" x2="656.7" y2="120.04" stroke="#333" stroke-width="0.7"/>
<text x="657.6" y="123.74" font-size="10.0" textLength="14.4" lengthAdjust="spacingAndGlyphs" fill="#1a1a1a">0.4</text>
<line x1="654.5" y1="94.43" x2="656.7" y2="94.43" stroke="#333" stroke-width="0.7"/>
<text x="657.6" y="98.13" font-size="10.0" textLength="14.4" lengthAdjust="spacingAndGlyphs" fill="#1a1a1a">0.5</text>
<line x1="654.5" y1="68.82" x2="656.7" y2="68.82" stroke="#333" stroke-width="0.7"/>
<text x="657.6" y="72.52" font-size="10.0" textLength="14.4" lengthAdjust="spacingAndGlyphs" fill="#1a1a1a">0.6</text>
<line x1="654.5" y1="43.20" x2="656.7" y2="43.20" stroke="#333" stroke-width="0.7"/>
<text x="657.6" y="46.90" font-size="10.0" textLength="14.4" lengthAdjust="spacingAndGlyphs" fill="#1a1a1a">0.7</text>
<text transform="translate(682.6,130.75) rotate(-90)" font-size="10.4" font-weight="bold" text-anchor="middle" textLength="127.2" lengthAdjust="spacingAndGlyphs">Migrant Resident Ratio</text>
</svg></body></html>
